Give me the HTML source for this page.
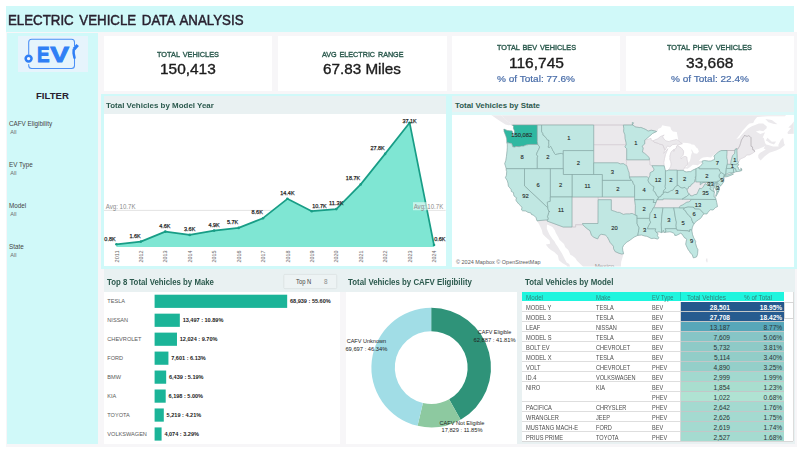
<!DOCTYPE html>
<html lang="en"><head><meta charset="utf-8"><title>Electric Vehicle Data Analysis</title>
<style>
html,body{margin:0;padding:0;}
body{width:800px;height:450px;overflow:hidden;background:#fff;position:relative;font-family:"Liberation Sans",sans-serif;}
.b{position:absolute;}
.t{position:absolute;white-space:nowrap;line-height:1;transform-origin:0 50%;}
svg{position:absolute;left:0;top:0;overflow:visible;}
</style></head><body>

<div class="b" style="left:6px;top:32px;width:791.00px;height:415.00px;background:#f7f6f8;"></div>
<div class="b hdr" style="left:6px;top:6px;width:788.00px;height:25.60px;background:#d0f9f9;"></div>
<div class="t" style="left:8.40px;top:12px;font-size:15px;color:#2a2230;word-spacing:2.2px;transform:scaleX(0.8858);-webkit-text-stroke:0.5px #2a2230;">ELECTRIC VEHICLE DATA ANALYSIS</div>
<div class="b" style="left:7px;top:32.7px;width:91.00px;height:411.00px;background:#d0f9f9;"></div>
<div class="b" style="left:17.5px;top:35.8px;width:70.50px;height:35.90px;background:#e6f4fc;"></div>
<div class="t" style="left:36.00px;top:91px;font-size:9.6px;color:#2a2230;font-weight:bold;">FILTER</div>
<div class="t" style="left:9.00px;top:121px;font-size:6.3px;color:#444;">CAFV Eligibility</div>
<div class="t" style="left:10.30px;top:130px;font-size:5.6px;color:#6c6c6c;">All</div>
<div class="t" style="left:9.00px;top:162px;font-size:6.3px;color:#444;">EV Type</div>
<div class="t" style="left:10.30px;top:171px;font-size:5.6px;color:#6c6c6c;">All</div>
<div class="t" style="left:9.00px;top:203px;font-size:6.3px;color:#444;">Model</div>
<div class="t" style="left:10.30px;top:212px;font-size:5.6px;color:#6c6c6c;">All</div>
<div class="t" style="left:9.00px;top:244px;font-size:6.3px;color:#444;">State</div>
<div class="t" style="left:10.30px;top:253px;font-size:5.6px;color:#6c6c6c;">All</div>
<div class="b" style="left:103.75px;top:36.2px;width:168.25px;height:55.20px;background:#fff;"></div>
<div class="t" style="left:156.88px;top:51px;font-size:8.0px;color:#2c5a4e;word-spacing:1.0px;transform:scaleX(0.9180);-webkit-text-stroke:0.38px #2c5a4e;">TOTAL VEHICLES</div>
<div class="t" style="left:160.00px;top:62px;font-size:14.3px;color:#1c1c1c;transform:scaleX(1.0785);-webkit-text-stroke:0.35px #1c1c1c;">150,413</div>
<div class="b" style="left:277.5px;top:36.2px;width:169.50px;height:55.20px;background:#fff;"></div>
<div class="t" style="left:321.50px;top:51px;font-size:8.0px;color:#2c5a4e;word-spacing:1.0px;transform:scaleX(0.8980);-webkit-text-stroke:0.38px #2c5a4e;">AVG ELECTRIC RANGE</div>
<div class="t" style="left:323.25px;top:62px;font-size:14.3px;color:#1c1c1c;transform:scaleX(1.0666);-webkit-text-stroke:0.35px #1c1c1c;">67.83 Miles</div>
<div class="b" style="left:452px;top:36.2px;width:168.00px;height:55.20px;background:#fff;"></div>
<div class="t" style="left:496.50px;top:44px;font-size:8.0px;color:#2c5a4e;word-spacing:1.0px;transform:scaleX(0.9105);-webkit-text-stroke:0.38px #2c5a4e;">TOTAL BEV VEHICLES</div>
<div class="t" style="left:508.50px;top:56px;font-size:14.3px;color:#1c1c1c;transform:scaleX(1.0863);-webkit-text-stroke:0.35px #1c1c1c;">116,745</div>
<div class="t" style="left:497.00px;top:74px;font-size:9.8px;color:#4a6ea9;transform:scaleX(1.0251);-webkit-text-stroke:0.22px #4a6ea9;">% of Total: 77.6%</div>
<div class="b" style="left:626px;top:36.2px;width:167.60px;height:55.20px;background:#fff;"></div>
<div class="t" style="left:667.30px;top:44px;font-size:8.0px;color:#2c5a4e;word-spacing:1.0px;transform:scaleX(0.9184);-webkit-text-stroke:0.38px #2c5a4e;">TOTAL PHEV VEHICLES</div>
<div class="t" style="left:686.05px;top:56px;font-size:14.3px;color:#1c1c1c;transform:scaleX(1.0860);-webkit-text-stroke:0.35px #1c1c1c;">33,668</div>
<div class="t" style="left:670.80px;top:74px;font-size:9.8px;color:#4a6ea9;transform:scaleX(1.0251);-webkit-text-stroke:0.22px #4a6ea9;">% of Total: 22.4%</div>
<div class="b" style="left:101px;top:93.6px;width:696.00px;height:175.70px;background:#d0f9f9;"></div>
<div class="b" style="left:104px;top:96.4px;width:341.60px;height:18.00px;background:#e9f1f2;"></div>
<div class="b" style="left:104px;top:114.4px;width:341.60px;height:152.10px;background:#fff;"></div>
<div class="t" style="left:106.20px;top:102px;font-size:7.9px;color:#2c5a4e;font-weight:bold;transform:scaleX(1.0067);">Total Vehicles by Model Year</div>
<div class="b" style="left:452px;top:96.4px;width:341.80px;height:15.90px;background:#e9f1f2;"></div>
<div class="b" style="left:452px;top:112.3px;width:341.80px;height:3.10px;background:#dcf8f8;"></div>
<div class="b" style="left:452px;top:115.2px;width:341.80px;height:151.40px;background:#fff;overflow:hidden;"></div>
<div class="t" style="left:455.00px;top:102px;font-size:7.9px;color:#2c5a4e;font-weight:bold;">Total Vehicles by State</div>
<div class="b" style="left:103.7px;top:269.3px;width:691.30px;height:22.30px;background:#e9f1f2;"></div>
<div class="b" style="left:517px;top:291.6px;width:278.00px;height:152.40px;background:#e9f1f2;"></div>
<div class="b" style="left:104px;top:291.6px;width:236.00px;height:152.00px;background:#fff;"></div>
<div class="b" style="left:345.5px;top:291.6px;width:171.50px;height:152.10px;background:#fff;"></div>
<div class="b" style="left:522.2px;top:292.3px;width:270.80px;height:150.20px;background:#fff;"></div>
<div class="t" style="left:106.70px;top:278px;font-size:8.6px;color:#2c5a4e;font-weight:bold;transform:scaleX(0.9089);">Top 8 Total Vehicles by Make</div>
<div class="t" style="left:348.40px;top:278px;font-size:8.6px;color:#2c5a4e;font-weight:bold;transform:scaleX(0.9147);">Total Vehicles by CAFV Eligibility</div>
<div class="t" style="left:524.50px;top:278px;font-size:8.6px;color:#2c5a4e;font-weight:bold;transform:scaleX(0.9183);">Total Vehicles by Model</div>
<svg width="800" height="450" viewBox="0 0 800 450" font-family="Liberation Sans, sans-serif"><line x1="104" x2="445.6" y1="210.4" y2="210.4" stroke="#dcdcdc" stroke-width="0.8"/>
<polygon points="116.4,247.0 116.4,244.3 140.8,241.6 165.3,231.6 189.7,234.9 214.1,230.6 238.6,227.9 263.0,218.2 287.4,198.8 311.8,211.2 336.3,209.1 360.7,184.4 385.1,153.9 409.6,122.7 434.0,245.0 434.0,247.0" fill="#7fe6d3"/>
<polyline points="116.4,244.3 140.8,241.6 165.3,231.6 189.7,234.9 214.1,230.6 238.6,227.9 263.0,218.2 287.4,198.8 311.8,211.2 336.3,209.1 360.7,184.4 385.1,153.9 409.6,122.7 434.0,245.0" fill="none" stroke="#189d86" stroke-width="1.7" stroke-linejoin="round"/>
<circle cx="116.4" cy="244.3" r="1.3" fill="#189d86"/>
<circle cx="140.8" cy="241.6" r="1.3" fill="#189d86"/>
<circle cx="165.3" cy="231.6" r="1.3" fill="#189d86"/>
<circle cx="189.7" cy="234.9" r="1.3" fill="#189d86"/>
<circle cx="214.1" cy="230.6" r="1.3" fill="#189d86"/>
<circle cx="238.6" cy="227.9" r="1.3" fill="#189d86"/>
<circle cx="263.0" cy="218.2" r="1.3" fill="#189d86"/>
<circle cx="287.4" cy="198.8" r="1.3" fill="#189d86"/>
<circle cx="311.8" cy="211.2" r="1.3" fill="#189d86"/>
<circle cx="336.3" cy="209.1" r="1.3" fill="#189d86"/>
<circle cx="360.7" cy="184.4" r="1.3" fill="#189d86"/>
<circle cx="385.1" cy="153.9" r="1.3" fill="#189d86"/>
<circle cx="409.6" cy="122.7" r="1.3" fill="#189d86"/>
<circle cx="434.0" cy="245.0" r="1.3" fill="#189d86"/>
<text x="110.00" y="241" font-size="5.9" fill="#1f1f1f" text-anchor="middle" textLength="11.30" lengthAdjust="spacingAndGlyphs" stroke="#1f1f1f" stroke-width="0.25">0.8K</text>
<text x="135.03" y="238" font-size="5.9" fill="#1f1f1f" text-anchor="middle" textLength="11.30" lengthAdjust="spacingAndGlyphs" stroke="#1f1f1f" stroke-width="0.25">1.6K</text>
<text x="164.86" y="228" font-size="5.9" fill="#1f1f1f" text-anchor="middle" textLength="11.30" lengthAdjust="spacingAndGlyphs" stroke="#1f1f1f" stroke-width="0.25">4.6K</text>
<text x="189.69" y="231" font-size="5.9" fill="#1f1f1f" text-anchor="middle" textLength="11.30" lengthAdjust="spacingAndGlyphs" stroke="#1f1f1f" stroke-width="0.25">3.6K</text>
<text x="214.12" y="227" font-size="5.9" fill="#1f1f1f" text-anchor="middle" textLength="11.30" lengthAdjust="spacingAndGlyphs" stroke="#1f1f1f" stroke-width="0.25">4.9K</text>
<text x="232.55" y="224" font-size="5.9" fill="#1f1f1f" text-anchor="middle" textLength="11.30" lengthAdjust="spacingAndGlyphs" stroke="#1f1f1f" stroke-width="0.25">5.7K</text>
<text x="257.18" y="214" font-size="5.9" fill="#1f1f1f" text-anchor="middle" textLength="11.30" lengthAdjust="spacingAndGlyphs" stroke="#1f1f1f" stroke-width="0.25">8.6K</text>
<text x="287.41" y="195" font-size="5.9" fill="#1f1f1f" text-anchor="middle" textLength="14.30" lengthAdjust="spacingAndGlyphs" stroke="#1f1f1f" stroke-width="0.25">14.4K</text>
<text x="319.44" y="208" font-size="5.9" fill="#1f1f1f" text-anchor="middle" textLength="14.30" lengthAdjust="spacingAndGlyphs" stroke="#1f1f1f" stroke-width="0.25">10.7K</text>
<text x="336.27" y="205" font-size="5.9" fill="#1f1f1f" text-anchor="middle" textLength="14.30" lengthAdjust="spacingAndGlyphs" stroke="#1f1f1f" stroke-width="0.25">11.3K</text>
<text x="353.00" y="180" font-size="5.9" fill="#1f1f1f" text-anchor="middle" textLength="14.30" lengthAdjust="spacingAndGlyphs" stroke="#1f1f1f" stroke-width="0.25">18.7K</text>
<text x="377.53" y="150" font-size="5.9" fill="#1f1f1f" text-anchor="middle" textLength="14.30" lengthAdjust="spacingAndGlyphs" stroke="#1f1f1f" stroke-width="0.25">27.8K</text>
<text x="409.56" y="123" font-size="5.9" fill="#1f1f1f" text-anchor="middle" textLength="14.30" lengthAdjust="spacingAndGlyphs" stroke="#1f1f1f" stroke-width="0.25">37.1K</text>
<text x="439.79" y="241" font-size="5.9" fill="#1f1f1f" text-anchor="middle" textLength="11.30" lengthAdjust="spacingAndGlyphs" stroke="#1f1f1f" stroke-width="0.25">0.6K</text>
<rect x="413" y="202.2" width="31.5" height="8" fill="#fff" fill-opacity="0.55"/>
<text x="105.80" y="209" font-size="6.4" fill="#8a8a8a" textLength="29.70" lengthAdjust="spacingAndGlyphs">Avg: 10.7K</text>
<text x="413.70" y="209" font-size="6.4" fill="#8a8a8a" textLength="29.50" lengthAdjust="spacingAndGlyphs">Avg: 10.7K</text>
<text transform="translate(118.5,256.4) rotate(-90)" font-size="6" fill="#666" text-anchor="middle" textLength="12" lengthAdjust="spacingAndGlyphs">2011</text>
<text transform="translate(142.9,256.4) rotate(-90)" font-size="6" fill="#666" text-anchor="middle" textLength="12" lengthAdjust="spacingAndGlyphs">2012</text>
<text transform="translate(167.4,256.4) rotate(-90)" font-size="6" fill="#666" text-anchor="middle" textLength="12" lengthAdjust="spacingAndGlyphs">2013</text>
<text transform="translate(191.8,256.4) rotate(-90)" font-size="6" fill="#666" text-anchor="middle" textLength="12" lengthAdjust="spacingAndGlyphs">2014</text>
<text transform="translate(216.2,256.4) rotate(-90)" font-size="6" fill="#666" text-anchor="middle" textLength="12" lengthAdjust="spacingAndGlyphs">2015</text>
<text transform="translate(240.7,256.4) rotate(-90)" font-size="6" fill="#666" text-anchor="middle" textLength="12" lengthAdjust="spacingAndGlyphs">2016</text>
<text transform="translate(265.1,256.4) rotate(-90)" font-size="6" fill="#666" text-anchor="middle" textLength="12" lengthAdjust="spacingAndGlyphs">2017</text>
<text transform="translate(289.5,256.4) rotate(-90)" font-size="6" fill="#666" text-anchor="middle" textLength="12" lengthAdjust="spacingAndGlyphs">2018</text>
<text transform="translate(313.9,256.4) rotate(-90)" font-size="6" fill="#666" text-anchor="middle" textLength="12" lengthAdjust="spacingAndGlyphs">2019</text>
<text transform="translate(338.4,256.4) rotate(-90)" font-size="6" fill="#666" text-anchor="middle" textLength="12" lengthAdjust="spacingAndGlyphs">2020</text>
<text transform="translate(362.8,256.4) rotate(-90)" font-size="6" fill="#666" text-anchor="middle" textLength="12" lengthAdjust="spacingAndGlyphs">2021</text>
<text transform="translate(387.2,256.4) rotate(-90)" font-size="6" fill="#666" text-anchor="middle" textLength="12" lengthAdjust="spacingAndGlyphs">2022</text>
<text transform="translate(411.7,256.4) rotate(-90)" font-size="6" fill="#666" text-anchor="middle" textLength="12" lengthAdjust="spacingAndGlyphs">2023</text>
<text transform="translate(436.1,256.4) rotate(-90)" font-size="6" fill="#666" text-anchor="middle" textLength="12" lengthAdjust="spacingAndGlyphs">2024</text>
<rect x="154.6" y="294.70" width="132.57" height="13.2" fill="#1bb498"/>
<text x="107.30" y="303" font-size="5.8" fill="#5a5a5a" textLength="17.74" lengthAdjust="spacingAndGlyphs">TESLA</text>
<text x="289.97" y="303" font-size="5.7" fill="#222" font-weight="bold" textLength="40.74" lengthAdjust="spacingAndGlyphs">68,939 : 55.60%</text>
<rect x="154.6" y="313.66" width="25.23" height="13.2" fill="#1bb498"/>
<text x="107.30" y="322" font-size="5.8" fill="#5a5a5a" textLength="20.85" lengthAdjust="spacingAndGlyphs">NISSAN</text>
<text x="182.63" y="322" font-size="5.7" fill="#222" font-weight="bold" textLength="40.74" lengthAdjust="spacingAndGlyphs">13,497 : 10.89%</text>
<rect x="154.6" y="332.62" width="22.38" height="13.2" fill="#1bb498"/>
<text x="107.30" y="341" font-size="5.8" fill="#5a5a5a" textLength="34.23" lengthAdjust="spacingAndGlyphs">CHEVROLET</text>
<text x="179.78" y="341" font-size="5.7" fill="#222" font-weight="bold" textLength="37.65" lengthAdjust="spacingAndGlyphs">12,024 : 9.70%</text>
<rect x="154.6" y="351.58" width="13.82" height="13.2" fill="#1bb498"/>
<text x="107.30" y="360" font-size="5.8" fill="#5a5a5a" textLength="15.86" lengthAdjust="spacingAndGlyphs">FORD</text>
<text x="171.22" y="360" font-size="5.7" fill="#222" font-weight="bold" textLength="34.56" lengthAdjust="spacingAndGlyphs">7,601 : 6.13%</text>
<rect x="154.6" y="370.54" width="11.57" height="13.2" fill="#1bb498"/>
<text x="107.30" y="379" font-size="5.8" fill="#5a5a5a" textLength="13.69" lengthAdjust="spacingAndGlyphs">BMW</text>
<text x="168.97" y="379" font-size="5.7" fill="#222" font-weight="bold" textLength="34.56" lengthAdjust="spacingAndGlyphs">6,439 : 5.19%</text>
<rect x="154.6" y="389.50" width="11.10" height="13.2" fill="#1bb498"/>
<text x="107.30" y="398" font-size="5.8" fill="#5a5a5a" textLength="9.03" lengthAdjust="spacingAndGlyphs">KIA</text>
<text x="168.50" y="398" font-size="5.7" fill="#222" font-weight="bold" textLength="34.56" lengthAdjust="spacingAndGlyphs">6,198 : 5.00%</text>
<rect x="154.6" y="408.46" width="9.20" height="13.2" fill="#1bb498"/>
<text x="107.30" y="417" font-size="5.8" fill="#5a5a5a" textLength="22.51" lengthAdjust="spacingAndGlyphs">TOYOTA</text>
<text x="166.60" y="417" font-size="5.7" fill="#222" font-weight="bold" textLength="34.56" lengthAdjust="spacingAndGlyphs">5,219 : 4.21%</text>
<rect x="154.6" y="427.42" width="6.99" height="13.2" fill="#1bb498"/>
<text x="107.30" y="436" font-size="5.8" fill="#5a5a5a" textLength="39.62" lengthAdjust="spacingAndGlyphs">VOLKSWAGEN</text>
<text x="164.39" y="436" font-size="5.7" fill="#222" font-weight="bold" textLength="34.56" lengthAdjust="spacingAndGlyphs">4,074 : 3.29%</text>
<rect x="283.8" y="274.4" width="52.9" height="14.2" rx="1" fill="#edf3f4" stroke="#d9dfe0" stroke-width="0.7"/>
<text x="296.00" y="284" font-size="6.3" fill="#444" textLength="15.20" lengthAdjust="spacingAndGlyphs">Top N</text>
<text x="324.00" y="284" font-size="6.4" fill="#8a8a8a">8</text>
<path d="M431.20,307.80 A59.8,59.8 0 0 1 460.63,419.66 L449.12,399.29 A36.4,36.4 0 0 0 431.20,331.20 Z" fill="#2f9379"/>
<path d="M460.63,419.66 A59.8,59.8 0 0 1 417.57,425.83 L422.90,403.04 A36.4,36.4 0 0 0 449.12,399.29 Z" fill="#8dc9a0"/>
<path d="M417.57,425.83 A59.8,59.8 0 0 1 431.20,307.80 L431.20,331.20 A36.4,36.4 0 0 0 422.90,403.04 Z" fill="#a1dde6"/>
<text x="366.40" y="343" font-size="6.2" fill="#222" text-anchor="middle" textLength="39.50" lengthAdjust="spacingAndGlyphs">CAFV Unknown</text>
<text x="366.40" y="351" font-size="6.2" fill="#222" text-anchor="middle" textLength="42.00" lengthAdjust="spacingAndGlyphs">69,697 : 46.34%</text>
<text x="494.60" y="334" font-size="6.2" fill="#222" text-anchor="middle" textLength="33.50" lengthAdjust="spacingAndGlyphs">CAFV Eligible</text>
<text x="494.60" y="342" font-size="6.2" fill="#222" text-anchor="middle" textLength="42.00" lengthAdjust="spacingAndGlyphs">62,887 : 41.81%</text>
<text x="462.00" y="425" font-size="6.2" fill="#222" text-anchor="middle" textLength="45.00" lengthAdjust="spacingAndGlyphs">CAFV Not Eligible</text>
<text x="462.00" y="432" font-size="6.2" fill="#222" text-anchor="middle" textLength="41.00" lengthAdjust="spacingAndGlyphs">17,829 : 11.85%</text></svg>
<div class="b" style="left:522.2px;top:292.1px;width:261.60px;height:9.40px;background:#1ff5de;"></div>
<div class="t" style="left:525.80px;top:295px;font-size:6.6px;color:#2f837c;transform:scaleX(0.9457);">Model</div>
<div class="t" style="left:596.00px;top:295px;font-size:6.6px;color:#2f837c;transform:scaleX(0.8984);">Make</div>
<div class="t" style="left:652.00px;top:295px;font-size:6.6px;color:#2f837c;transform:scaleX(0.8660);">EV Type</div>
<div class="t" style="left:687.00px;top:295px;font-size:6.6px;color:#2f837c;transform:scaleX(0.9664);">Total Vehicles</div>
<div class="t" style="left:744.00px;top:295px;font-size:6.6px;color:#2f837c;transform:scaleX(0.9701);">% of Total</div>
<div class="b" style="left:680.3000000000001px;top:292.1px;width:0.80px;height:9.40px;background:#19cdbb;"></div>
<div class="b" style="left:680.7px;top:301.5px;width:103.10px;height:10.00px;background:#24588d;"></div>
<div class="t" style="left:525.80px;top:305px;font-size:6.6px;color:#4c4c4c;transform:scaleX(0.8650);">MODEL Y</div>
<div class="t" style="left:596.00px;top:305px;font-size:6.6px;color:#4c4c4c;transform:scaleX(0.8500);">TESLA</div>
<div class="t" style="left:652.00px;top:305px;font-size:6.6px;color:#4c4c4c;transform:scaleX(0.8400);">BEV</div>
<div class="t" style="left:709.81px;top:305px;font-size:6.6px;color:#ffffff;font-weight:bold;">28,501</div>
<div class="t" style="left:759.82px;top:305px;font-size:6.6px;color:#ffffff;font-weight:bold;">18.95%</div>
<div class="b" style="left:680.7px;top:311.5px;width:103.10px;height:10.00px;background:#265b8f;"></div>
<div class="b" style="left:522.2px;top:311.1px;width:158.50px;height:0.80px;background:#dedede;"></div>
<div class="b" style="left:680.7px;top:311.05px;width:103.10px;height:0.90px;background:#c3c7c8;"></div>
<div class="t" style="left:525.80px;top:315px;font-size:6.6px;color:#4c4c4c;transform:scaleX(0.8650);">MODEL 3</div>
<div class="t" style="left:596.00px;top:315px;font-size:6.6px;color:#4c4c4c;transform:scaleX(0.8500);">TESLA</div>
<div class="t" style="left:652.00px;top:315px;font-size:6.6px;color:#4c4c4c;transform:scaleX(0.8400);">BEV</div>
<div class="t" style="left:709.81px;top:315px;font-size:6.6px;color:#ffffff;font-weight:bold;">27,708</div>
<div class="t" style="left:759.82px;top:315px;font-size:6.6px;color:#ffffff;font-weight:bold;">18.42%</div>
<div class="b" style="left:680.7px;top:321.5px;width:103.10px;height:10.00px;background:#57a7b9;"></div>
<div class="b" style="left:522.2px;top:321.1px;width:158.50px;height:0.80px;background:#dedede;"></div>
<div class="b" style="left:680.7px;top:321.05px;width:103.10px;height:0.90px;background:#c3c7c8;"></div>
<div class="t" style="left:525.80px;top:325px;font-size:6.6px;color:#4c4c4c;transform:scaleX(0.8650);">LEAF</div>
<div class="t" style="left:596.00px;top:325px;font-size:6.6px;color:#4c4c4c;transform:scaleX(0.8500);">NISSAN</div>
<div class="t" style="left:652.00px;top:325px;font-size:6.6px;color:#4c4c4c;transform:scaleX(0.8400);">BEV</div>
<div class="t" style="left:709.81px;top:325px;font-size:6.6px;color:#2a3436;">13,187</div>
<div class="t" style="left:763.49px;top:325px;font-size:6.6px;color:#2a3436;">8.77%</div>
<div class="b" style="left:680.7px;top:331.5px;width:103.10px;height:10.00px;background:#86c5c6;"></div>
<div class="b" style="left:522.2px;top:331.1px;width:158.50px;height:0.80px;background:#dedede;"></div>
<div class="b" style="left:680.7px;top:331.05px;width:103.10px;height:0.90px;background:#c3c7c8;"></div>
<div class="t" style="left:525.80px;top:335px;font-size:6.6px;color:#4c4c4c;transform:scaleX(0.8650);">MODEL S</div>
<div class="t" style="left:596.00px;top:335px;font-size:6.6px;color:#4c4c4c;transform:scaleX(0.8500);">TESLA</div>
<div class="t" style="left:652.00px;top:335px;font-size:6.6px;color:#4c4c4c;transform:scaleX(0.8400);">BEV</div>
<div class="t" style="left:713.48px;top:335px;font-size:6.6px;color:#2a3436;">7,609</div>
<div class="t" style="left:763.49px;top:335px;font-size:6.6px;color:#2a3436;">5.06%</div>
<div class="b" style="left:680.7px;top:341.5px;width:103.10px;height:10.00px;background:#8ecac7;"></div>
<div class="b" style="left:522.2px;top:341.1px;width:158.50px;height:0.80px;background:#dedede;"></div>
<div class="b" style="left:680.7px;top:341.05px;width:103.10px;height:0.90px;background:#c3c7c8;"></div>
<div class="t" style="left:525.80px;top:345px;font-size:6.6px;color:#4c4c4c;transform:scaleX(0.8650);">BOLT EV</div>
<div class="t" style="left:596.00px;top:345px;font-size:6.6px;color:#4c4c4c;transform:scaleX(0.8500);">CHEVROLET</div>
<div class="t" style="left:652.00px;top:345px;font-size:6.6px;color:#4c4c4c;transform:scaleX(0.8400);">BEV</div>
<div class="t" style="left:713.48px;top:345px;font-size:6.6px;color:#2a3436;">5,732</div>
<div class="t" style="left:763.49px;top:345px;font-size:6.6px;color:#2a3436;">3.81%</div>
<div class="b" style="left:680.7px;top:351.5px;width:103.10px;height:10.00px;background:#92cdc8;"></div>
<div class="b" style="left:522.2px;top:351.1px;width:158.50px;height:0.80px;background:#dedede;"></div>
<div class="b" style="left:680.7px;top:351.05px;width:103.10px;height:0.90px;background:#c3c7c8;"></div>
<div class="t" style="left:525.80px;top:355px;font-size:6.6px;color:#4c4c4c;transform:scaleX(0.8650);">MODEL X</div>
<div class="t" style="left:596.00px;top:355px;font-size:6.6px;color:#4c4c4c;transform:scaleX(0.8500);">TESLA</div>
<div class="t" style="left:652.00px;top:355px;font-size:6.6px;color:#4c4c4c;transform:scaleX(0.8400);">BEV</div>
<div class="t" style="left:713.97px;top:355px;font-size:6.6px;color:#2a3436;">5,114</div>
<div class="t" style="left:763.49px;top:355px;font-size:6.6px;color:#2a3436;">3.40%</div>
<div class="b" style="left:680.7px;top:361.5px;width:103.10px;height:10.00px;background:#94cfc9;"></div>
<div class="b" style="left:522.2px;top:361.1px;width:158.50px;height:0.80px;background:#dedede;"></div>
<div class="b" style="left:680.7px;top:361.05px;width:103.10px;height:0.90px;background:#c3c7c8;"></div>
<div class="t" style="left:525.80px;top:365px;font-size:6.6px;color:#4c4c4c;transform:scaleX(0.8650);">VOLT</div>
<div class="t" style="left:596.00px;top:365px;font-size:6.6px;color:#4c4c4c;transform:scaleX(0.8500);">CHEVROLET</div>
<div class="t" style="left:652.00px;top:365px;font-size:6.6px;color:#4c4c4c;transform:scaleX(0.8400);">PHEV</div>
<div class="t" style="left:713.48px;top:365px;font-size:6.6px;color:#2a3436;">4,890</div>
<div class="t" style="left:763.49px;top:365px;font-size:6.6px;color:#2a3436;">3.25%</div>
<div class="b" style="left:680.7px;top:371.5px;width:103.10px;height:10.00px;background:#a2d9cf;"></div>
<div class="b" style="left:522.2px;top:371.1px;width:158.50px;height:0.80px;background:#dedede;"></div>
<div class="b" style="left:680.7px;top:371.05px;width:103.10px;height:0.90px;background:#c3c7c8;"></div>
<div class="t" style="left:525.80px;top:375px;font-size:6.6px;color:#4c4c4c;transform:scaleX(0.8650);">ID.4</div>
<div class="t" style="left:596.00px;top:375px;font-size:6.6px;color:#4c4c4c;transform:scaleX(0.8500);">VOLKSWAGEN</div>
<div class="t" style="left:652.00px;top:375px;font-size:6.6px;color:#4c4c4c;transform:scaleX(0.8400);">BEV</div>
<div class="t" style="left:713.48px;top:375px;font-size:6.6px;color:#2a3436;">2,999</div>
<div class="t" style="left:763.49px;top:375px;font-size:6.6px;color:#2a3436;">1.99%</div>
<div class="b" style="left:680.7px;top:381.5px;width:103.10px;height:10.00px;background:#a9decf;"></div>
<div class="b" style="left:522.2px;top:381.1px;width:158.50px;height:0.80px;background:#dedede;"></div>
<div class="b" style="left:680.7px;top:381.05px;width:103.10px;height:0.90px;background:#c3c7c8;"></div>
<div class="t" style="left:525.80px;top:385px;font-size:6.6px;color:#4c4c4c;transform:scaleX(0.8650);">NIRO</div>
<div class="t" style="left:596.00px;top:385px;font-size:6.6px;color:#4c4c4c;transform:scaleX(0.8500);">KIA</div>
<div class="t" style="left:652.00px;top:385px;font-size:6.6px;color:#4c4c4c;transform:scaleX(0.8400);">BEV</div>
<div class="t" style="left:713.48px;top:385px;font-size:6.6px;color:#2a3436;">1,854</div>
<div class="t" style="left:763.49px;top:385px;font-size:6.6px;color:#2a3436;">1.23%</div>
<div class="b" style="left:680.7px;top:391.5px;width:103.10px;height:10.00px;background:#b0e3d3;"></div>
<div class="b" style="left:650px;top:391.1px;width:30.70px;height:0.80px;background:#dedede;"></div>
<div class="b" style="left:680.7px;top:391.05px;width:103.10px;height:0.90px;background:#c3c7c8;"></div>
<div class="t" style="left:652.00px;top:395px;font-size:6.6px;color:#4c4c4c;transform:scaleX(0.8400);">PHEV</div>
<div class="t" style="left:713.48px;top:395px;font-size:6.6px;color:#2a3436;">1,022</div>
<div class="t" style="left:763.49px;top:395px;font-size:6.6px;color:#2a3436;">0.68%</div>
<div class="b" style="left:680.7px;top:401.5px;width:103.10px;height:10.00px;background:#a4dad0;"></div>
<div class="b" style="left:522.2px;top:401.1px;width:158.50px;height:0.80px;background:#dedede;"></div>
<div class="b" style="left:680.7px;top:401.05px;width:103.10px;height:0.90px;background:#c3c7c8;"></div>
<div class="t" style="left:525.80px;top:405px;font-size:6.6px;color:#4c4c4c;transform:scaleX(0.8650);">PACIFICA</div>
<div class="t" style="left:596.00px;top:405px;font-size:6.6px;color:#4c4c4c;transform:scaleX(0.8500);">CHRYSLER</div>
<div class="t" style="left:652.00px;top:405px;font-size:6.6px;color:#4c4c4c;transform:scaleX(0.8400);">PHEV</div>
<div class="t" style="left:713.48px;top:405px;font-size:6.6px;color:#2a3436;">2,642</div>
<div class="t" style="left:763.49px;top:405px;font-size:6.6px;color:#2a3436;">1.76%</div>
<div class="b" style="left:680.7px;top:411.5px;width:103.10px;height:10.00px;background:#a4dad0;"></div>
<div class="b" style="left:522.2px;top:411.1px;width:158.50px;height:0.80px;background:#dedede;"></div>
<div class="b" style="left:680.7px;top:411.05px;width:103.10px;height:0.90px;background:#c3c7c8;"></div>
<div class="t" style="left:525.80px;top:415px;font-size:6.6px;color:#4c4c4c;transform:scaleX(0.8650);">WRANGLER</div>
<div class="t" style="left:596.00px;top:415px;font-size:6.6px;color:#4c4c4c;transform:scaleX(0.8500);">JEEP</div>
<div class="t" style="left:652.00px;top:415px;font-size:6.6px;color:#4c4c4c;transform:scaleX(0.8400);">PHEV</div>
<div class="t" style="left:713.48px;top:415px;font-size:6.6px;color:#2a3436;">2,626</div>
<div class="t" style="left:763.49px;top:415px;font-size:6.6px;color:#2a3436;">1.75%</div>
<div class="b" style="left:680.7px;top:421.5px;width:103.10px;height:10.00px;background:#a4dad0;"></div>
<div class="b" style="left:522.2px;top:421.1px;width:158.50px;height:0.80px;background:#dedede;"></div>
<div class="b" style="left:680.7px;top:421.05px;width:103.10px;height:0.90px;background:#c3c7c8;"></div>
<div class="t" style="left:525.80px;top:425px;font-size:6.6px;color:#4c4c4c;transform:scaleX(0.8650);">MUSTANG MACH-E</div>
<div class="t" style="left:596.00px;top:425px;font-size:6.6px;color:#4c4c4c;transform:scaleX(0.8500);">FORD</div>
<div class="t" style="left:652.00px;top:425px;font-size:6.6px;color:#4c4c4c;transform:scaleX(0.8400);">BEV</div>
<div class="t" style="left:713.48px;top:425px;font-size:6.6px;color:#2a3436;">2,619</div>
<div class="t" style="left:763.49px;top:425px;font-size:6.6px;color:#2a3436;">1.74%</div>
<div class="b" style="left:680.7px;top:431.5px;width:103.10px;height:10.00px;background:#a5dbd0;"></div>
<div class="b" style="left:522.2px;top:431.1px;width:158.50px;height:0.80px;background:#dedede;"></div>
<div class="b" style="left:680.7px;top:431.05px;width:103.10px;height:0.90px;background:#c3c7c8;"></div>
<div class="t" style="left:525.80px;top:435px;font-size:6.6px;color:#4c4c4c;transform:scaleX(0.8650);">PRIUS PRIME</div>
<div class="t" style="left:596.00px;top:435px;font-size:6.6px;color:#4c4c4c;transform:scaleX(0.8500);">TOYOTA</div>
<div class="t" style="left:652.00px;top:435px;font-size:6.6px;color:#4c4c4c;transform:scaleX(0.8400);">PHEV</div>
<div class="t" style="left:713.48px;top:435px;font-size:6.6px;color:#2a3436;">2,527</div>
<div class="t" style="left:763.49px;top:435px;font-size:6.6px;color:#2a3436;">1.68%</div>
<div class="b" style="left:680.3000000000001px;top:301.5px;width:0.80px;height:140.00px;background:#d4d8d9;"></div>
<div class="b" style="left:522.2px;top:441.1px;width:270.80px;height:0.80px;background:#d8d8d8;"></div>
<div class="b" style="left:792.5px;top:292.1px;width:0.90px;height:149.40px;background:#dcdcdc;"></div>
<div class="b" style="left:784.4px;top:302.2px;width:7.6px;height:14.4px;border:0.8px solid #d6d6d6;background:#fff;"></div>
<svg width="800" height="450" viewBox="0 0 800 450" font-family="Liberation Sans, sans-serif"><path d="M28.7,54.3 V42.2 a3,3 0 0 1 3,-3 H71.5 a3,3 0 0 1 3,3 V45.5 M74.5,58.5 V65.5 a3,3 0 0 1 -3,3 H31.7 a3,3 0 0 1 -3,-3 V64.5" fill="none" stroke="#4a90f6" stroke-width="1.05" stroke-linecap="round"/>
<circle cx="28.6" cy="58.6" r="2.95" fill="#f2f9ff" stroke="#2f7ff5" stroke-width="2.5"/>
<path d="M74.0,49.2 L77.7,45.0" stroke="#2f7ff5" stroke-width="3.3" stroke-linecap="butt" fill="none"/>
<path d="M73.7,49.8 L73.6,53.2 L74.5,57.8" stroke="#2f7ff5" stroke-width="2.5" stroke-linecap="round" stroke-linejoin="round" fill="none"/>
<text x="36.9" y="61.8" font-size="22" font-weight="bold" fill="#2f7ff5" textLength="12.6" lengthAdjust="spacingAndGlyphs" stroke="#2f7ff5" stroke-width="0.9">E</text>
<text x="50.3" y="61.8" font-size="22" font-weight="bold" fill="#2f7ff5" textLength="18.8" lengthAdjust="spacingAndGlyphs" stroke="#2f7ff5" stroke-width="0.9">V</text></svg>
<svg width="800" height="450" viewBox="0 0 800 450" font-family="Liberation Sans, sans-serif"><defs><clipPath id="mc"><rect x="452" y="115.2" width="341.79999999999995" height="151.40000000000003"/></clipPath></defs><g clip-path="url(#mc)">
<rect x="452" y="115" width="342" height="152" fill="#fff"/>
<defs><filter id="lb" x="-5%" y="-5%" width="110%" height="110%"><feGaussianBlur stdDeviation="0.55"/></filter></defs>
<g filter="url(#lb)">
<path d="M491.9,104.3 L496.2,112.7 L501.9,115.5 L504.7,119.2 L507.5,121.6 L510.6,122.9 L511.0,125.0 L632.3,125.0 L634.3,125.9 L635.1,126.9 L639.9,127.6 L640.8,127.4 L643.8,128.6 L646.0,129.6 L648.1,131.1 L651.2,130.2 L654.7,130.9 L656.6,131.5 L657.7,130.9 L658.1,128.9 L661.2,127.6 L662.3,125.3 L665.5,125.9 L670.3,126.8 L671.1,129.6 L672.9,131.5 L676.8,131.9 L677.4,135.4 L678.1,138.7 L678.3,141.2 L679.8,142.2 L681.1,143.1 L682.9,142.8 L687.2,143.1 L690.7,143.7 L691.5,144.6 L694.2,144.7 L696.8,148.1 L697.8,148.4 L698.9,151.5 L698.5,152.1 L697.1,153.7 L693.9,153.2 L692.4,150.6 L690.9,149.1 L692.0,152.4 L690.9,155.6 L690.6,158.2 L689.8,161.0 L688.9,162.2 L687.6,162.8 L687.2,165.1 L687.4,166.6 L684.8,166.9 L684.5,168.4 L687.2,168.7 L687.2,169.1 L689.8,167.2 L692.8,164.8 L696.3,165.1 L697.6,165.4 L700.2,163.6 L701.3,163.5 L702.7,163.3 L702.2,162.3 L702.1,161.1 L698.9,161.0 L700.7,158.8 L703.0,157.5 L707.2,157.0 L711.1,157.6 L713.2,155.3 L716.8,153.1 L721.1,150.6 L727.0,150.5 L734.9,150.5 L735.4,149.1 L736.8,148.7 L737.8,149.1 L739.7,145.9 L740.4,143.7 L741.5,139.9 L744.8,135.1 L745.6,136.1 L747.5,136.2 L748.7,135.7 L750.4,136.9 L751.0,137.6 L751.0,145.0 L751.0,146.2 L752.5,146.9 L752.7,149.7 L754.0,150.0 L754.7,151.8 L754.5,150.0 L758.6,149.1 L763.2,146.9 L765.3,145.9 L763.6,148.4 L765.8,149.4 L759.9,152.9 L758.2,154.9 L758.3,157.8 L760.6,160.4 L764.5,156.4 L769.4,152.8 L776.2,150.6 L780.5,148.6 L785.0,145.0 L784.1,143.4 L783.1,137.8 L780.7,140.3 L778.3,145.0 L778.6,146.6 L773.1,146.4 L768.4,145.0 L766.2,144.4 L765.1,143.0 L763.8,138.0 L762.7,137.4 L765.1,132.2 L760.3,134.0 L755.9,131.5 L759.7,130.6 L763.2,131.2 L766.6,128.3 L766.8,126.6 L763.2,123.5 L758.8,123.6 L754.5,125.3 L752.3,125.9 L748.0,128.6 L743.5,132.7 L740.6,136.1 L739.3,138.0 L736.2,139.3 L739.3,135.4 L742.8,130.6 L747.5,125.3 L749.5,123.6 L753.2,122.9 L754.5,120.3 L757.1,116.9 L767.5,116.2 L784.9,116.2 L791.4,109.3 L797.9,104.3 L797.9,97.2 L489.7,97.2Z" fill="#ebe9ec"/>
<path d="M488.4,113.1 L494.1,116.9 L498.4,119.9 L502.3,122.6 L505.4,124.4 L508.4,125.3 L511.0,125.0 L510.6,122.9 L507.5,121.6 L504.7,119.2 L501.9,115.5 L496.2,112.7 L491.9,104.3 L488.4,104.3Z" fill="#ebe9ec"/>
<path d="M765.8,140.4 L767.5,137.7 L771.8,141.8 L776.2,141.5 L774.0,144.4 L769.7,143.1 L767.1,140.9Z" fill="#ebe9ec"/>
<path d="M765.3,118.9 L771.8,119.9 L777.5,124.3 L774.0,124.0 L768.4,122.3Z" fill="#ebe9ec"/>
<path d="M787.9,134.0 L787.5,132.2 L791.1,128.1 L788.3,127.6 L791.8,124.3 L794.0,121.3 L795.3,116.9 L797.9,111.4 L804.4,107.2 L804.4,138.0 L797.0,134.1 L793.5,133.8Z" fill="#ebe9ec"/>
<path d="M537.0,220.8 L539.1,224.2 L541.8,229.9 L542.7,234.0 L545.3,236.8 L549.6,240.5 L550.1,243.7 L545.8,244.5 L548.3,247.7 L550.9,249.9 L554.2,252.1 L557.9,255.5 L558.7,259.4 L559.2,260.6 L562.6,263.2 L566.6,265.6 L568.2,268.5 L570.2,267.0 L569.2,264.1 L566.6,262.5 L565.0,259.4 L562.0,253.5 L559.3,249.2 L558.0,247.0 L555.7,243.7 L554.4,241.3 L552.4,239.0 L549.6,234.8 L547.9,231.2 L546.8,228.5 L547.0,224.6 L550.5,226.1 L552.4,227.1 L554.8,230.2 L555.7,232.7 L558.3,237.3 L559.4,239.7 L564.0,244.1 L565.3,247.2 L568.3,250.1 L570.5,255.0 L572.0,255.5 L575.2,257.9 L577.0,260.8 L583.4,267.0 L586.1,270.3 L588.3,277.4 L623.0,277.4 L620.6,271.5 L621.0,264.3 L621.2,261.8 L622.5,257.4 L623.6,253.7 L621.7,254.0 L619.1,253.3 L615.2,251.6 L613.6,248.7 L613.4,246.2 L610.0,242.3 L609.1,240.3 L607.4,237.0 L605.2,234.9 L601.3,234.3 L599.5,235.3 L597.6,238.9 L593.9,237.3 L591.5,235.3 L590.0,230.7 L587.8,229.2 L584.3,226.3 L582.9,224.7 L575.6,224.7 L575.6,227.0 L563.2,227.0 L547.0,221.0 L547.4,219.8 L537.0,220.8Z" fill="#ebe9ec"/>
<path d="M676.8,273.2 L680.7,269.4 L685.9,267.7 L691.5,267.2 L695.9,268.0 L700.2,270.3 L706.7,271.3 L711.1,277.4 L680.7,277.4Z" fill="#ebe9ec"/>
<path d="M706.1,258.4 L707.4,258.6 L707.6,261.8 L707.0,262.7 L705.9,260.8Z" fill="#ebe9ec"/>
<path d="M506.9,142.7 L506.8,140.3 L506.7,138.7 L505.8,135.8 L504.1,131.5 L503.9,129.1 L507.1,130.4 L509.6,130.8 L512.1,130.9 L512.7,133.2 L512.1,136.1 L514.0,136.1 L514.3,133.2 L514.5,130.9 L513.4,128.3 L513.6,126.6 L512.5,125.0 L537.3,125.0 L537.3,141.7 L537.8,144.4 L528.9,144.4 L527.5,144.8 L526.0,145.0 L523.6,146.1 L521.6,146.1 L519.2,146.7 L516.2,146.4 L514.5,147.1 L512.7,146.7 L512.3,145.2 L511.7,143.6 L509.7,143.1 L507.5,142.8 L506.9,142.7Z" fill="#ebe9ec" stroke="#ebe9ec" stroke-width="0.5"/>
<path d="M506.2,168.7 L505.4,165.7 L504.7,163.7 L505.8,160.4 L506.4,156.7 L506.8,153.1 L507.1,150.6 L507.3,147.5 L507.3,144.4 L506.9,142.7 L507.5,142.8 L509.7,143.1 L511.7,143.6 L512.3,145.2 L512.7,146.7 L514.5,147.1 L516.2,146.4 L519.2,146.7 L521.6,146.1 L523.6,146.1 L526.0,145.0 L527.5,144.8 L528.9,144.4 L537.8,144.4 L538.6,145.5 L539.7,146.9 L538.9,149.1 L538.1,150.6 L537.3,152.1 L536.5,154.6 L537.7,156.1 L537.3,157.8 L537.3,168.7 L506.2,168.7Z" fill="#ebe9ec" stroke="#ebe9ec" stroke-width="0.5"/>
<path d="M537.3,125.0 L541.6,125.0 L541.6,131.5 L542.9,133.5 L543.1,135.1 L544.9,136.4 L546.6,138.7 L547.9,140.3 L549.0,140.3 L548.7,143.1 L549.0,145.0 L548.1,147.1 L549.2,147.5 L550.7,146.3 L551.4,147.5 L552.4,149.4 L552.9,150.9 L553.8,151.8 L554.6,153.7 L555.5,154.5 L557.4,153.9 L559.2,153.6 L561.3,153.4 L563.3,153.9 L563.3,168.7 L537.3,168.7 L537.3,157.8 L537.7,156.1 L536.5,154.6 L537.3,152.1 L538.1,150.6 L538.9,149.1 L539.7,146.9 L538.6,145.5 L537.8,144.4 L537.3,141.7 L537.3,125.0Z" fill="#ebe9ec" stroke="#ebe9ec" stroke-width="0.5"/>
<path d="M541.6,125.0 L593.7,125.0 L593.7,150.6 L563.3,150.6 L563.3,153.9 L561.3,153.4 L559.2,153.6 L557.4,153.9 L555.5,154.5 L554.6,153.7 L553.8,151.8 L552.9,150.9 L552.4,149.4 L551.4,147.5 L550.7,146.3 L549.2,147.5 L548.1,147.1 L549.0,145.0 L548.7,143.1 L549.0,140.3 L547.9,140.3 L546.6,138.7 L544.9,136.4 L543.1,135.1 L542.9,133.5 L541.6,131.5 L541.6,125.0Z" fill="#ebe9ec" stroke="#ebe9ec" stroke-width="0.5"/>
<path d="M563.3,150.6 L593.7,150.6 L593.7,174.5 L563.3,174.5Z" fill="#ebe9ec" stroke="#ebe9ec" stroke-width="0.5"/>
<path d="M572.0,174.5 L602.4,174.5 L602.4,197.0 L572.0,197.0Z" fill="#ebe9ec" stroke="#ebe9ec" stroke-width="0.5"/>
<path d="M550.3,168.7 L563.3,168.7 L563.3,174.5 L572.0,174.5 L572.0,197.0 L550.3,197.0Z" fill="#ebe9ec" stroke="#ebe9ec" stroke-width="0.5"/>
<path d="M524.5,168.7 L550.3,168.7 L550.3,197.0 L550.3,201.4 L548.8,201.6 L547.3,202.3 L547.5,204.6 L547.9,207.0 L547.8,207.8 L524.5,185.9 L524.5,168.7Z" fill="#ebe9ec" stroke="#ebe9ec" stroke-width="0.5"/>
<path d="M537.0,220.8 L536.4,219.1 L536.2,217.8 L533.6,215.2 L531.4,214.4 L531.0,213.0 L527.9,212.3 L525.8,211.0 L522.4,210.7 L521.6,210.0 L521.9,207.3 L520.6,205.7 L518.8,204.1 L516.2,200.8 L516.0,199.2 L516.6,197.8 L515.6,197.3 L514.0,195.9 L513.6,194.3 L513.5,192.6 L511.4,191.5 L511.0,189.3 L508.4,186.2 L508.0,183.1 L507.1,180.3 L505.4,177.7 L506.4,175.4 L506.7,171.6 L506.2,170.1 L506.2,168.7 L524.5,168.7 L524.5,185.9 L547.8,207.8 L548.0,208.9 L548.8,211.5 L549.9,211.5 L548.6,212.7 L548.2,215.2 L547.5,216.3 L548.3,218.4 L548.5,219.1 L547.8,219.8 L547.4,219.8 L537.0,220.8Z" fill="#ebe9ec" stroke="#ebe9ec" stroke-width="0.5"/>
<path d="M550.3,197.0 L572.0,197.0 L572.0,227.0 L563.2,227.0 L547.0,221.0 L547.4,219.8 L547.8,219.8 L548.5,219.1 L548.3,218.4 L547.5,216.3 L548.2,215.2 L548.6,212.7 L549.9,211.5 L548.8,211.5 L548.0,208.9 L547.8,207.8 L547.9,207.0 L547.5,204.6 L547.3,202.3 L548.8,201.6 L550.3,201.4 L550.3,197.0Z" fill="#ebe9ec" stroke="#ebe9ec" stroke-width="0.5"/>
<path d="M572.0,197.0 L598.2,197.0 L598.1,199.7 L598.0,223.5 L582.5,223.5 L582.9,224.7 L575.6,224.7 L575.6,227.0 L572.0,227.0Z" fill="#ebe9ec" stroke="#ebe9ec" stroke-width="0.5"/>
<path d="M598.1,199.7 L611.3,199.7 L611.3,210.2 L614.7,211.3 L617.3,212.3 L619.5,212.4 L623.4,214.4 L626.0,213.9 L629.5,213.9 L632.1,213.4 L635.2,215.0 L637.1,215.5 L637.1,223.6 L637.9,225.6 L639.2,227.8 L638.6,230.7 L638.4,232.2 L637.9,235.0 L638.0,235.3 L634.3,237.0 L632.5,238.3 L629.1,240.8 L626.9,242.0 L624.3,244.5 L623.4,245.7 L622.5,247.7 L622.8,250.6 L623.6,253.7 L621.7,254.0 L619.1,253.3 L615.2,251.6 L613.6,248.7 L613.4,246.2 L610.0,242.3 L609.1,240.3 L607.4,237.0 L605.2,234.9 L601.3,234.3 L599.5,235.3 L597.6,238.9 L593.9,237.3 L591.5,235.3 L590.0,230.7 L587.8,229.2 L584.3,226.3 L582.9,224.7 L582.5,223.5 L598.0,223.5 L598.1,199.7Z" fill="#ebe9ec" stroke="#ebe9ec" stroke-width="0.5"/>
<path d="M598.2,197.0 L634.6,197.0 L634.6,199.7 L635.4,205.7 L635.2,215.0 L632.1,213.4 L629.5,213.9 L626.0,213.9 L623.4,214.4 L619.5,212.4 L617.3,212.3 L614.7,211.3 L611.3,210.2 L611.3,199.7 L598.1,199.7 L598.2,197.0Z" fill="#ebe9ec" stroke="#ebe9ec" stroke-width="0.5"/>
<path d="M602.4,180.3 L631.6,180.3 L632.5,181.1 L633.4,183.7 L634.6,185.4 L634.6,197.0 L602.4,197.0Z" fill="#ebe9ec" stroke="#ebe9ec" stroke-width="0.5"/>
<path d="M593.7,162.8 L617.8,162.8 L620.4,163.9 L623.4,163.6 L625.6,165.1 L626.7,165.7 L627.3,167.5 L628.2,170.4 L629.1,172.8 L629.3,176.0 L629.6,176.9 L630.1,178.5 L631.6,180.3 L602.4,180.3 L602.4,174.5 L593.7,174.5Z" fill="#ebe9ec" stroke="#ebe9ec" stroke-width="0.5"/>
<path d="M593.7,144.7 L626.2,144.7 L624.9,146.9 L626.7,148.7 L626.7,159.8 L626.0,159.8 L626.7,162.2 L626.2,163.9 L626.7,165.7 L625.6,165.1 L623.4,163.6 L620.4,163.9 L617.8,162.8 L593.7,162.8Z" fill="#ebe9ec" stroke="#ebe9ec" stroke-width="0.5"/>
<path d="M593.7,125.0 L623.3,125.0 L623.8,128.3 L623.6,131.5 L624.9,134.8 L625.1,138.7 L626.0,142.5 L626.2,144.7 L593.7,144.7Z" fill="#ebe9ec" stroke="#ebe9ec" stroke-width="0.5"/>
<path d="M623.3,125.0 L632.3,125.0 L632.3,122.4 L633.6,122.8 L632.3,125.0 L634.3,125.9 L635.1,126.9 L639.9,127.6 L640.8,127.4 L643.8,128.6 L646.0,129.6 L648.1,131.1 L651.2,130.2 L654.7,130.9 L656.6,131.5 L652.5,133.5 L648.1,137.4 L645.5,139.6 L644.7,140.2 L644.7,143.9 L642.1,146.2 L643.2,148.1 L642.7,150.6 L642.5,152.1 L644.7,153.4 L646.4,154.9 L649.2,157.6 L649.4,159.8 L626.7,159.8 L626.7,148.7 L624.9,146.9 L626.2,144.7 L626.0,142.5 L625.1,138.7 L624.9,134.8 L623.6,131.5 L623.8,128.3 L623.3,125.0Z" fill="#ebe9ec" stroke="#ebe9ec" stroke-width="0.5"/>
<path d="M626.0,159.8 L649.4,159.8 L649.9,162.8 L649.7,164.5 L651.9,165.7 L653.8,168.7 L654.0,169.9 L653.1,171.3 L652.1,171.6 L650.1,172.8 L649.9,175.7 L648.6,178.1 L647.1,176.8 L629.6,176.9 L629.3,176.0 L629.1,172.8 L628.2,170.4 L627.3,167.5 L626.7,165.7 L626.2,163.9 L626.7,162.2 L626.0,159.8Z" fill="#ebe9ec" stroke="#ebe9ec" stroke-width="0.5"/>
<path d="M629.6,176.9 L647.1,176.8 L648.6,178.1 L648.1,180.3 L648.6,182.0 L651.6,185.4 L653.9,186.5 L653.9,188.0 L653.1,190.4 L655.1,192.1 L656.7,195.4 L658.4,197.1 L658.1,199.2 L656.8,199.7 L656.6,201.1 L656.0,202.5 L653.1,202.5 L654.0,199.7 L634.6,199.7 L634.6,197.0 L634.6,185.4 L633.4,183.7 L632.5,181.1 L631.6,180.3 L630.1,178.5 L629.6,176.9Z" fill="#ebe9ec" stroke="#ebe9ec" stroke-width="0.5"/>
<path d="M634.6,199.7 L654.0,199.7 L653.1,202.5 L656.0,202.5 L654.9,205.1 L654.2,207.0 L653.4,207.8 L652.1,210.5 L650.1,213.7 L649.6,218.4 L637.1,218.4 L637.1,215.5 L635.2,215.0 L635.4,205.7 L634.6,199.7Z" fill="#ebe9ec" stroke="#ebe9ec" stroke-width="0.5"/>
<path d="M637.1,218.4 L649.6,218.4 L649.9,221.0 L650.8,222.0 L648.6,225.9 L647.5,228.7 L655.8,228.7 L655.3,230.5 L656.7,232.8 L658.1,233.7 L657.3,235.8 L659.0,237.8 L657.9,238.8 L657.3,239.0 L654.7,238.3 L653.8,238.3 L651.2,238.5 L649.0,237.3 L646.8,236.3 L644.7,236.0 L641.6,235.0 L638.0,235.3 L637.9,235.0 L638.4,232.2 L638.6,230.7 L639.2,227.8 L637.9,225.6 L637.1,223.6 L637.1,218.4Z" fill="#ebe9ec" stroke="#ebe9ec" stroke-width="0.5"/>
<path d="M653.4,207.8 L662.5,207.8 L662.9,208.4 L661.8,216.8 L661.3,224.1 L661.6,232.6 L659.0,231.8 L657.3,232.2 L656.7,232.8 L655.3,230.5 L655.8,228.7 L647.5,228.7 L648.6,225.9 L650.8,222.0 L649.9,221.0 L649.6,218.4 L650.1,213.7 L652.1,210.5 L653.4,207.8Z" fill="#ebe9ec" stroke="#ebe9ec" stroke-width="0.5"/>
<path d="M662.5,207.8 L673.8,207.8 L675.6,219.0 L676.4,222.0 L676.1,225.6 L676.4,228.7 L665.1,228.7 L665.9,230.5 L665.4,232.3 L663.8,232.5 L663.8,231.7 L663.3,230.2 L662.9,232.0 L661.6,232.6 L661.3,224.1 L661.8,216.8 L662.9,208.4 L662.5,207.8Z" fill="#ebe9ec" stroke="#ebe9ec" stroke-width="0.5"/>
<path d="M673.8,207.8 L684.6,207.8 L683.5,209.4 L685.5,210.7 L686.1,212.1 L688.5,215.2 L689.6,215.9 L691.5,218.4 L692.0,220.4 L693.1,223.0 L694.4,223.4 L693.3,225.1 L692.4,227.1 L692.0,229.2 L691.8,230.1 L689.8,229.7 L689.2,231.9 L688.5,230.9 L677.0,230.2 L676.4,228.7 L676.1,225.6 L676.4,222.0 L675.6,219.0 L673.8,207.8Z" fill="#ebe9ec" stroke="#ebe9ec" stroke-width="0.5"/>
<path d="M665.1,228.7 L676.4,228.7 L677.0,230.2 L688.5,230.9 L689.2,231.9 L689.8,229.7 L691.8,230.1 L692.0,231.7 L692.6,234.8 L693.7,237.8 L695.7,241.5 L695.5,243.2 L696.8,247.7 L697.9,249.6 L697.6,253.5 L697.4,254.8 L696.5,256.9 L694.2,257.7 L693.3,257.8 L692.2,254.5 L690.2,252.8 L689.4,251.1 L688.3,249.9 L687.0,247.2 L686.3,245.7 L685.7,244.2 L686.1,241.8 L686.6,239.3 L685.9,238.3 L684.8,238.1 L683.3,236.0 L682.0,234.0 L680.7,233.2 L679.2,234.0 L676.4,235.4 L674.8,235.4 L674.6,234.0 L673.3,233.0 L671.1,232.0 L669.8,231.8 L666.8,232.1 L665.4,232.3 L665.9,230.5 L665.1,228.7Z" fill="#ebe9ec" stroke="#ebe9ec" stroke-width="0.5"/>
<path d="M684.6,207.8 L687.9,206.8 L693.5,207.0 L693.5,207.6 L694.0,207.3 L694.7,208.8 L699.5,208.9 L704.3,213.9 L702.8,214.7 L701.5,217.3 L699.8,218.9 L698.5,219.7 L696.1,221.5 L695.0,222.5 L694.4,223.4 L693.1,223.0 L692.0,220.4 L691.5,218.4 L689.6,215.9 L688.5,215.2 L686.1,212.1 L685.5,210.7 L683.5,209.4 L684.6,207.8Z" fill="#ebe9ec" stroke="#ebe9ec" stroke-width="0.5"/>
<path d="M679.3,207.8 L679.4,206.8 L680.7,205.7 L682.9,204.8 L684.6,203.6 L686.8,202.2 L688.9,201.9 L690.7,200.6 L690.8,199.3 L716.0,199.5 L716.7,202.5 L717.5,206.6 L715.4,207.6 L713.1,210.0 L710.6,209.7 L708.0,212.1 L707.0,213.9 L704.3,213.9 L699.5,208.9 L694.7,208.8 L694.0,207.3 L693.5,207.6 L693.5,207.0 L687.9,206.8 L684.6,207.8 L679.3,207.8Z" fill="#ebe9ec" stroke="#ebe9ec" stroke-width="0.5"/>
<path d="M653.4,207.8 L654.2,207.0 L654.9,205.1 L656.0,202.5 L656.6,201.1 L656.8,199.7 L663.1,199.7 L663.1,198.9 L682.1,199.2 L690.8,199.3 L690.7,200.6 L688.9,201.9 L686.8,202.2 L684.6,203.6 L682.9,204.8 L680.7,205.7 L679.4,206.8 L679.3,207.8 L653.4,207.8Z" fill="#ebe9ec" stroke="#ebe9ec" stroke-width="0.5"/>
<path d="M656.8,199.7 L658.1,199.2 L658.4,197.1 L660.7,196.5 L661.4,194.8 L662.9,194.3 L663.2,192.6 L665.1,191.8 L667.2,192.6 L669.8,191.5 L670.7,190.7 L673.1,190.0 L674.6,187.4 L677.1,185.4 L678.5,185.4 L679.8,187.0 L682.0,187.9 L685.0,187.4 L686.8,189.2 L688.1,193.2 L689.5,194.1 L686.3,196.7 L682.1,199.2 L663.1,198.9 L663.1,199.7 L656.8,199.7Z" fill="#ebe9ec" stroke="#ebe9ec" stroke-width="0.5"/>
<path d="M682.1,199.2 L686.3,196.7 L689.5,194.1 L690.8,195.9 L692.8,195.7 L694.3,194.7 L696.8,194.3 L698.1,191.6 L699.6,188.3 L701.4,188.8 L703.0,187.2 L705.2,183.7 L707.5,185.2 L708.0,184.1 L708.9,185.4 L710.6,186.5 L710.9,187.6 L709.8,189.0 L711.1,189.8 L713.2,191.2 L714.3,192.1 L714.1,194.3 L714.1,197.0 L715.5,197.6 L716.0,199.5 L690.8,199.3 L682.1,199.2Z" fill="#ebe9ec" stroke="#ebe9ec" stroke-width="0.5"/>
<path d="M715.6,196.2 L716.9,191.8 L718.7,191.3 L717.2,194.3 L715.9,196.5Z" fill="#ebe9ec" stroke="#ebe9ec" stroke-width="0.5"/>
<path d="M686.8,189.2 L688.5,188.2 L688.5,186.8 L690.5,186.2 L691.3,184.4 L692.8,183.7 L694.4,182.0 L694.9,179.9 L695.5,178.5 L695.1,176.9 L695.8,176.6 L695.8,181.9 L700.3,181.9 L700.3,184.8 L702.2,183.2 L703.3,182.5 L704.8,182.3 L705.9,182.0 L707.2,182.5 L708.0,184.1 L707.5,185.2 L705.2,183.7 L703.0,187.2 L701.4,188.8 L699.6,188.3 L698.1,191.6 L696.8,194.3 L694.3,194.7 L692.8,195.7 L690.8,195.9 L689.5,194.1 L688.1,193.2 L686.8,189.2Z" fill="#ebe9ec" stroke="#ebe9ec" stroke-width="0.5"/>
<path d="M700.3,181.9 L716.3,181.9 L716.3,189.0 L719.5,189.0 L718.7,191.3 L716.9,191.8 L715.9,189.8 L714.5,187.6 L714.5,184.2 L715.4,182.8 L713.7,184.5 L713.2,187.0 L713.7,189.8 L714.3,192.1 L713.2,191.2 L711.1,189.8 L709.8,189.0 L710.9,187.6 L710.6,186.5 L708.9,185.4 L708.0,184.1 L707.2,182.5 L705.9,182.0 L704.8,182.3 L703.3,182.5 L702.2,183.2 L700.3,184.8 L700.3,181.9Z" fill="#ebe9ec" stroke="#ebe9ec" stroke-width="0.5"/>
<path d="M716.3,189.0 L716.3,181.9 L717.2,181.2 L718.0,181.4 L717.4,182.4 L717.4,183.4 L718.0,184.8 L718.5,186.2 L719.4,187.0 L719.5,189.0Z" fill="#ebe9ec" stroke="#ebe9ec" stroke-width="0.5"/>
<path d="M718.0,181.4 L719.3,180.5 L720.8,179.1 L719.5,177.7 L718.9,176.2 L719.2,174.7 L721.1,172.4 L724.5,174.5 L724.0,176.2 L723.0,177.4 L724.1,177.6 L723.9,179.7 L723.7,181.7 L722.3,183.9 L720.2,186.3 L720.0,185.1 L718.5,184.2 L717.6,183.1 L717.4,182.4 L718.0,181.4Z" fill="#ebe9ec" stroke="#ebe9ec" stroke-width="0.5"/>
<path d="M695.8,168.8 L695.8,181.9 L716.3,181.9 L717.2,181.2 L718.0,181.4 L719.3,180.5 L720.8,179.1 L719.5,177.7 L718.9,176.2 L719.2,174.7 L721.1,172.4 L719.5,171.0 L719.5,169.6 L718.2,168.7 L699.1,168.7 L699.1,167.1 L695.8,168.8Z" fill="#ebe9ec" stroke="#ebe9ec" stroke-width="0.5"/>
<path d="M721.1,150.6 L718.5,151.8 L716.3,154.0 L713.9,155.9 L714.5,157.3 L714.5,159.5 L713.2,159.9 L711.1,161.0 L708.5,161.1 L704.6,160.5 L702.1,161.1 L702.2,162.3 L702.8,163.3 L702.0,164.5 L700.7,165.7 L699.1,167.1 L699.1,168.7 L718.2,168.7 L719.5,169.6 L719.5,171.0 L721.1,172.4 L724.5,174.5 L724.0,176.2 L725.2,175.4 L725.6,174.5 L726.0,172.8 L726.3,168.4 L727.3,164.2 L727.4,159.8 L726.9,159.1 L726.7,156.7 L726.9,153.7 L727.0,150.5 L721.1,150.6Z" fill="#ebe9ec" stroke="#ebe9ec" stroke-width="0.5"/>
<path d="M723.9,176.9 L725.2,175.4 L728.0,174.8 L731.5,173.6 L733.4,174.1 L730.6,175.4 L727.1,176.7Z" fill="#ebe9ec" stroke="#ebe9ec" stroke-width="0.5"/>
<path d="M725.6,174.5 L726.0,172.8 L726.3,168.4 L733.6,168.5 L733.4,172.7 L728.9,172.9 L727.6,173.6 L725.6,174.5Z" fill="#ebe9ec" stroke="#ebe9ec" stroke-width="0.5"/>
<path d="M733.6,168.5 L735.5,168.6 L735.7,169.3 L736.2,170.6 L736.6,171.6 L735.4,171.9 L733.4,172.7 L733.6,168.5Z" fill="#ebe9ec" stroke="#ebe9ec" stroke-width="0.5"/>
<path d="M726.3,168.4 L727.3,164.2 L730.8,164.4 L735.8,164.5 L736.2,164.2 L737.9,163.5 L738.9,164.8 L737.8,165.4 L737.1,166.6 L738.2,167.2 L738.6,168.9 L739.3,170.0 L741.2,169.9 L741.2,168.4 L740.6,168.3 L741.7,169.0 L741.7,170.6 L738.6,171.5 L736.6,171.6 L736.2,170.6 L735.7,169.3 L735.5,168.6 L733.6,168.5 L726.3,168.4Z" fill="#ebe9ec" stroke="#ebe9ec" stroke-width="0.5"/>
<path d="M727.3,164.2 L730.8,164.4 L731.0,161.0 L731.9,157.9 L732.6,155.5 L734.5,153.7 L734.9,150.5 L727.0,150.5 L726.9,153.7 L726.7,156.7 L726.9,159.1 L727.4,159.8 L727.3,164.2Z" fill="#ebe9ec" stroke="#ebe9ec" stroke-width="0.5"/>
<path d="M730.8,164.4 L735.8,164.5 L736.2,164.2 L737.9,163.5 L738.4,162.3 L737.2,160.4 L737.2,157.9 L737.0,153.1 L736.8,148.7 L735.4,149.1 L734.9,150.5 L734.5,153.7 L732.6,155.5 L731.9,157.9 L731.0,161.0 L730.8,164.4Z" fill="#ebe9ec" stroke="#ebe9ec" stroke-width="0.5"/>
<path d="M738.4,162.3 L737.2,160.4 L737.2,157.9 L737.0,153.1 L736.8,148.7 L737.8,149.1 L739.7,145.9 L740.4,143.7 L741.5,139.9 L744.8,135.1 L745.6,136.1 L747.5,136.2 L748.7,135.7 L750.4,136.9 L751.0,137.6 L751.0,145.0 L751.0,146.2 L752.5,146.9 L752.7,149.7 L754.0,150.0 L754.7,151.8 L752.3,153.4 L749.3,154.9 L746.7,154.9 L745.4,156.7 L742.3,158.2 L740.4,158.8 L739.1,161.0 L738.4,162.3Z" fill="#ebe9ec" stroke="#ebe9ec" stroke-width="0.5"/>
<path d="M677.1,185.4 L677.1,170.4 L683.1,170.3 L685.0,171.6 L686.3,171.9 L689.4,171.6 L690.7,171.6 L692.8,170.1 L695.8,168.8 L695.8,176.6 L695.1,176.9 L695.5,178.5 L694.9,179.9 L694.4,182.0 L692.8,183.7 L691.3,184.4 L690.5,186.2 L688.5,186.8 L688.5,188.2 L686.8,189.2 L685.0,187.4 L682.0,187.9 L679.8,187.0 L678.5,185.4 L677.1,185.4Z" fill="#ebe9ec" stroke="#ebe9ec" stroke-width="0.5"/>
<path d="M665.4,170.4 L665.4,184.0 L664.9,186.5 L665.5,188.7 L663.6,190.4 L663.2,192.6 L665.1,191.8 L667.2,192.6 L669.8,191.5 L670.7,190.7 L673.1,190.0 L674.6,187.4 L677.1,185.4 L677.1,170.1 L668.5,170.1 L666.8,170.8 L665.4,170.4Z" fill="#ebe9ec" stroke="#ebe9ec" stroke-width="0.5"/>
<path d="M665.4,170.4 L665.1,169.6 L664.2,165.8 L651.9,165.7 L653.8,168.7 L654.0,169.9 L653.1,171.3 L652.1,171.6 L650.1,172.8 L649.9,175.7 L648.6,178.1 L648.1,180.3 L648.6,182.0 L651.6,185.4 L653.9,186.5 L653.9,188.0 L653.1,190.4 L655.1,192.1 L656.7,195.4 L658.4,197.1 L660.7,196.5 L661.4,194.8 L662.9,194.3 L663.2,192.6 L663.6,190.4 L665.5,188.7 L664.9,186.5 L665.4,184.0 L665.4,170.4Z" fill="#ebe9ec" stroke="#ebe9ec" stroke-width="0.5"/>
<path d="M683.1,170.3 L684.4,168.1 L684.8,166.8 L686.1,165.7 L687.2,165.1 L687.6,162.8 L687.0,159.1 L686.8,157.0 L685.0,156.4 L683.3,157.0 L681.1,158.8 L681.1,157.3 L683.1,155.2 L683.7,151.8 L683.2,150.3 L681.1,147.8 L679.2,146.6 L677.5,145.7 L676.4,146.2 L676.4,148.1 L674.6,149.1 L673.8,151.5 L674.0,149.4 L671.7,151.2 L670.9,152.4 L669.8,156.4 L670.1,157.0 L669.8,159.1 L670.7,161.4 L671.1,163.9 L670.8,166.3 L669.8,168.1 L668.5,170.1 L677.1,170.1 L677.1,170.4 L683.1,170.3Z" fill="#ebe9ec" stroke="#ebe9ec" stroke-width="0.5"/>
<path d="M652.8,140.8 L654.1,142.2 L658.6,143.5 L659.6,144.2 L662.9,144.9 L664.2,148.4 L665.1,150.0 L667.5,145.9 L669.8,146.9 L672.5,144.7 L676.4,144.1 L677.6,145.2 L679.8,144.4 L682.4,143.7 L680.3,142.5 L679.2,141.2 L676.6,139.5 L674.2,140.1 L669.8,141.2 L669.2,141.7 L665.9,140.9 L663.8,138.7 L662.5,136.7 L664.2,135.1 L660.7,136.4 L657.7,138.8 L652.8,140.8Z" fill="#ebe9ec" stroke="#ebe9ec" stroke-width="0.5"/>
<path d="M645.5,139.6 L646.0,139.9 L649.0,139.0 L651.0,138.3 L651.2,140.3 L652.8,140.8 L654.1,142.2 L658.6,143.5 L659.6,144.2 L662.9,144.9 L664.2,148.4 L665.1,150.0 L664.4,150.9 L663.6,153.4 L665.9,151.2 L667.9,148.7 L665.5,154.3 L664.6,158.2 L663.8,162.5 L664.2,165.8 L651.9,165.7 L649.7,164.5 L649.9,162.8 L649.4,159.8 L649.2,157.6 L646.4,154.9 L644.7,153.4 L642.5,152.1 L642.7,150.6 L643.2,148.1 L642.1,146.2 L644.7,143.9 L644.7,140.2 L645.5,139.6Z" fill="#ebe9ec" stroke="#ebe9ec" stroke-width="0.5"/>
</g>
<path d="M572.0,197.0 L598.2,197.0 L598.1,199.7 L598.0,223.5 L582.5,223.5 L582.9,224.7 L575.6,224.7 L575.6,227.0 L572.0,227.0Z" fill="none" stroke="#d3ccd3" stroke-width="0.5"/>
<path d="M598.2,197.0 L634.6,197.0 L634.6,199.7 L635.4,205.7 L635.2,215.0 L632.1,213.4 L629.5,213.9 L626.0,213.9 L623.4,214.4 L619.5,212.4 L617.3,212.3 L614.7,211.3 L611.3,210.2 L611.3,199.7 L598.1,199.7 L598.2,197.0Z" fill="none" stroke="#d3ccd3" stroke-width="0.5"/>
<path d="M593.7,144.7 L626.2,144.7 L624.9,146.9 L626.7,148.7 L626.7,159.8 L626.0,159.8 L626.7,162.2 L626.2,163.9 L626.7,165.7 L625.6,165.1 L623.4,163.6 L620.4,163.9 L617.8,162.8 L593.7,162.8Z" fill="none" stroke="#d3ccd3" stroke-width="0.5"/>
<path d="M593.7,125.0 L623.3,125.0 L623.8,128.3 L623.6,131.5 L624.9,134.8 L625.1,138.7 L626.0,142.5 L626.2,144.7 L593.7,144.7Z" fill="none" stroke="#d3ccd3" stroke-width="0.5"/>
<path d="M626.0,159.8 L649.4,159.8 L649.9,162.8 L649.7,164.5 L651.9,165.7 L653.8,168.7 L654.0,169.9 L653.1,171.3 L652.1,171.6 L650.1,172.8 L649.9,175.7 L648.6,178.1 L647.1,176.8 L629.6,176.9 L629.3,176.0 L629.1,172.8 L628.2,170.4 L627.3,167.5 L626.7,165.7 L626.2,163.9 L626.7,162.2 L626.0,159.8Z" fill="none" stroke="#d3ccd3" stroke-width="0.5"/>
<path d="M653.4,207.8 L654.2,207.0 L654.9,205.1 L656.0,202.5 L656.6,201.1 L656.8,199.7 L663.1,199.7 L663.1,198.9 L682.1,199.2 L690.8,199.3 L690.7,200.6 L688.9,201.9 L686.8,202.2 L684.6,203.6 L682.9,204.8 L680.7,205.7 L679.4,206.8 L679.3,207.8 L653.4,207.8Z" fill="none" stroke="#d3ccd3" stroke-width="0.5"/>
<path d="M686.8,189.2 L688.5,188.2 L688.5,186.8 L690.5,186.2 L691.3,184.4 L692.8,183.7 L694.4,182.0 L694.9,179.9 L695.5,178.5 L695.1,176.9 L695.8,176.6 L695.8,181.9 L700.3,181.9 L700.3,184.8 L702.2,183.2 L703.3,182.5 L704.8,182.3 L705.9,182.0 L707.2,182.5 L708.0,184.1 L707.5,185.2 L705.2,183.7 L703.0,187.2 L701.4,188.8 L699.6,188.3 L698.1,191.6 L696.8,194.3 L694.3,194.7 L692.8,195.7 L690.8,195.9 L689.5,194.1 L688.1,193.2 L686.8,189.2Z" fill="none" stroke="#d3ccd3" stroke-width="0.5"/>
<path d="M727.3,164.2 L730.8,164.4 L731.0,161.0 L731.9,157.9 L732.6,155.5 L734.5,153.7 L734.9,150.5 L727.0,150.5 L726.9,153.7 L726.7,156.7 L726.9,159.1 L727.4,159.8 L727.3,164.2Z" fill="none" stroke="#d3ccd3" stroke-width="0.5"/>
<path d="M738.4,162.3 L737.2,160.4 L737.2,157.9 L737.0,153.1 L736.8,148.7 L737.8,149.1 L739.7,145.9 L740.4,143.7 L741.5,139.9 L744.8,135.1 L745.6,136.1 L747.5,136.2 L748.7,135.7 L750.4,136.9 L751.0,137.6 L751.0,145.0 L751.0,146.2 L752.5,146.9 L752.7,149.7 L754.0,150.0 L754.7,151.8 L752.3,153.4 L749.3,154.9 L746.7,154.9 L745.4,156.7 L742.3,158.2 L740.4,158.8 L739.1,161.0 L738.4,162.3Z" fill="none" stroke="#d3ccd3" stroke-width="0.5"/>
<path d="M683.1,170.3 L684.4,168.1 L684.8,166.8 L686.1,165.7 L687.2,165.1 L687.6,162.8 L687.0,159.1 L686.8,157.0 L685.0,156.4 L683.3,157.0 L681.1,158.8 L681.1,157.3 L683.1,155.2 L683.7,151.8 L683.2,150.3 L681.1,147.8 L679.2,146.6 L677.5,145.7 L676.4,146.2 L676.4,148.1 L674.6,149.1 L673.8,151.5 L674.0,149.4 L671.7,151.2 L670.9,152.4 L669.8,156.4 L670.1,157.0 L669.8,159.1 L670.7,161.4 L671.1,163.9 L670.8,166.3 L669.8,168.1 L668.5,170.1 L677.1,170.1 L677.1,170.4 L683.1,170.3Z" fill="none" stroke="#d3ccd3" stroke-width="0.5"/>
<path d="M652.8,140.8 L654.1,142.2 L658.6,143.5 L659.6,144.2 L662.9,144.9 L664.2,148.4 L665.1,150.0 L667.5,145.9 L669.8,146.9 L672.5,144.7 L676.4,144.1 L677.6,145.2 L679.8,144.4 L682.4,143.7 L680.3,142.5 L679.2,141.2 L676.6,139.5 L674.2,140.1 L669.8,141.2 L669.2,141.7 L665.9,140.9 L663.8,138.7 L662.5,136.7 L664.2,135.1 L660.7,136.4 L657.7,138.8 L652.8,140.8Z" fill="none" stroke="#d3ccd3" stroke-width="0.5"/>
<path d="M645.5,139.6 L646.0,139.9 L649.0,139.0 L651.0,138.3 L651.2,140.3 L652.8,140.8 L654.1,142.2 L658.6,143.5 L659.6,144.2 L662.9,144.9 L664.2,148.4 L665.1,150.0 L664.4,150.9 L663.6,153.4 L665.9,151.2 L667.9,148.7 L665.5,154.3 L664.6,158.2 L663.8,162.5 L664.2,165.8 L651.9,165.7 L649.7,164.5 L649.9,162.8 L649.4,159.8 L649.2,157.6 L646.4,154.9 L644.7,153.4 L642.5,152.1 L642.7,150.6 L643.2,148.1 L642.1,146.2 L644.7,143.9 L644.7,140.2 L645.5,139.6Z" fill="none" stroke="#d3ccd3" stroke-width="0.5"/>
<path d="M511.0,125.0 L632.3,125.0 L634.3,125.9 L635.1,126.9 L639.9,127.6 L640.8,127.4 L643.8,128.6 L646.0,129.6 L648.1,131.1 L651.2,130.2 L654.7,130.9 L656.6,131.5" fill="none" stroke="#cfc6cd" stroke-width="0.6"/>
<path d="M721.1,150.6 L727.0,150.5 L734.9,150.5 L735.4,149.1 L736.8,148.7 L737.8,149.1 L739.7,145.9 L740.4,143.7 L741.5,139.9 L744.8,135.1 L745.6,136.1 L747.5,136.2 L748.7,135.7 L750.4,136.9 L751.0,137.6 L751.0,145.0 L751.0,146.2 L752.5,146.9 L752.7,149.7 L754.0,150.0 L754.7,151.8" fill="none" stroke="#a9a6aa" stroke-width="0.55"/>
<path d="M537.0,220.8 L547.4,219.8 L547.0,221.0 L563.2,227.0 L575.6,227.0 L575.6,224.7 L582.9,224.7 L584.3,226.3 L587.8,229.2 L590.0,230.7 L591.5,235.3 L593.9,237.3 L597.6,238.9 L599.5,235.3 L601.3,234.3 L605.2,234.9 L607.4,237.0 L609.1,240.3 L610.0,242.3 L613.4,246.2 L613.6,248.7 L615.2,251.6 L619.1,253.3 L621.7,254.0 L623.6,253.7" fill="none" stroke="#cfc6cd" stroke-width="0.6"/>
<path d="M506.9,142.7 L506.8,140.3 L506.7,138.7 L505.8,135.8 L504.1,131.5 L503.9,129.1 L507.1,130.4 L509.6,130.8 L512.1,130.9 L512.7,133.2 L512.1,136.1 L514.0,136.1 L514.3,133.2 L514.5,130.9 L513.4,128.3 L513.6,126.6 L512.5,125.0 L537.3,125.0 L537.3,141.7 L537.8,144.4 L528.9,144.4 L527.5,144.8 L526.0,145.0 L523.6,146.1 L521.6,146.1 L519.2,146.7 L516.2,146.4 L514.5,147.1 L512.7,146.7 L512.3,145.2 L511.7,143.6 L509.7,143.1 L507.5,142.8 L506.9,142.7Z" fill="#2fb8a1" stroke="#7fa39f" stroke-width="0.6" stroke-linejoin="round"/>
<path d="M506.2,168.7 L505.4,165.7 L504.7,163.7 L505.8,160.4 L506.4,156.7 L506.8,153.1 L507.1,150.6 L507.3,147.5 L507.3,144.4 L506.9,142.7 L507.5,142.8 L509.7,143.1 L511.7,143.6 L512.3,145.2 L512.7,146.7 L514.5,147.1 L516.2,146.4 L519.2,146.7 L521.6,146.1 L523.6,146.1 L526.0,145.0 L527.5,144.8 L528.9,144.4 L537.8,144.4 L538.6,145.5 L539.7,146.9 L538.9,149.1 L538.1,150.6 L537.3,152.1 L536.5,154.6 L537.7,156.1 L537.3,157.8 L537.3,168.7 L506.2,168.7Z" fill="#c0e7e2" stroke="#7fa39f" stroke-width="0.6" stroke-linejoin="round"/>
<path d="M537.3,125.0 L541.6,125.0 L541.6,131.5 L542.9,133.5 L543.1,135.1 L544.9,136.4 L546.6,138.7 L547.9,140.3 L549.0,140.3 L548.7,143.1 L549.0,145.0 L548.1,147.1 L549.2,147.5 L550.7,146.3 L551.4,147.5 L552.4,149.4 L552.9,150.9 L553.8,151.8 L554.6,153.7 L555.5,154.5 L557.4,153.9 L559.2,153.6 L561.3,153.4 L563.3,153.9 L563.3,168.7 L537.3,168.7 L537.3,157.8 L537.7,156.1 L536.5,154.6 L537.3,152.1 L538.1,150.6 L538.9,149.1 L539.7,146.9 L538.6,145.5 L537.8,144.4 L537.3,141.7 L537.3,125.0Z" fill="#c0e7e2" stroke="#7fa39f" stroke-width="0.6" stroke-linejoin="round"/>
<path d="M541.6,125.0 L593.7,125.0 L593.7,150.6 L563.3,150.6 L563.3,153.9 L561.3,153.4 L559.2,153.6 L557.4,153.9 L555.5,154.5 L554.6,153.7 L553.8,151.8 L552.9,150.9 L552.4,149.4 L551.4,147.5 L550.7,146.3 L549.2,147.5 L548.1,147.1 L549.0,145.0 L548.7,143.1 L549.0,140.3 L547.9,140.3 L546.6,138.7 L544.9,136.4 L543.1,135.1 L542.9,133.5 L541.6,131.5 L541.6,125.0Z" fill="#c0e7e2" stroke="#7fa39f" stroke-width="0.6" stroke-linejoin="round"/>
<path d="M563.3,150.6 L593.7,150.6 L593.7,174.5 L563.3,174.5Z" fill="#c0e7e2" stroke="#7fa39f" stroke-width="0.6" stroke-linejoin="round"/>
<path d="M572.0,174.5 L602.4,174.5 L602.4,197.0 L572.0,197.0Z" fill="#c0e7e2" stroke="#7fa39f" stroke-width="0.6" stroke-linejoin="round"/>
<path d="M550.3,168.7 L563.3,168.7 L563.3,174.5 L572.0,174.5 L572.0,197.0 L550.3,197.0Z" fill="#c0e7e2" stroke="#7fa39f" stroke-width="0.6" stroke-linejoin="round"/>
<path d="M524.5,168.7 L550.3,168.7 L550.3,197.0 L550.3,201.4 L548.8,201.6 L547.3,202.3 L547.5,204.6 L547.9,207.0 L547.8,207.8 L524.5,185.9 L524.5,168.7Z" fill="#c0e7e2" stroke="#7fa39f" stroke-width="0.6" stroke-linejoin="round"/>
<path d="M537.0,220.8 L536.4,219.1 L536.2,217.8 L533.6,215.2 L531.4,214.4 L531.0,213.0 L527.9,212.3 L525.8,211.0 L522.4,210.7 L521.6,210.0 L521.9,207.3 L520.6,205.7 L518.8,204.1 L516.2,200.8 L516.0,199.2 L516.6,197.8 L515.6,197.3 L514.0,195.9 L513.6,194.3 L513.5,192.6 L511.4,191.5 L511.0,189.3 L508.4,186.2 L508.0,183.1 L507.1,180.3 L505.4,177.7 L506.4,175.4 L506.7,171.6 L506.2,170.1 L506.2,168.7 L524.5,168.7 L524.5,185.9 L547.8,207.8 L548.0,208.9 L548.8,211.5 L549.9,211.5 L548.6,212.7 L548.2,215.2 L547.5,216.3 L548.3,218.4 L548.5,219.1 L547.8,219.8 L547.4,219.8 L537.0,220.8Z" fill="#c0e7e2" stroke="#7fa39f" stroke-width="0.6" stroke-linejoin="round"/>
<path d="M550.3,197.0 L572.0,197.0 L572.0,227.0 L563.2,227.0 L547.0,221.0 L547.4,219.8 L547.8,219.8 L548.5,219.1 L548.3,218.4 L547.5,216.3 L548.2,215.2 L548.6,212.7 L549.9,211.5 L548.8,211.5 L548.0,208.9 L547.8,207.8 L547.9,207.0 L547.5,204.6 L547.3,202.3 L548.8,201.6 L550.3,201.4 L550.3,197.0Z" fill="#c0e7e2" stroke="#7fa39f" stroke-width="0.6" stroke-linejoin="round"/>
<path d="M598.1,199.7 L611.3,199.7 L611.3,210.2 L614.7,211.3 L617.3,212.3 L619.5,212.4 L623.4,214.4 L626.0,213.9 L629.5,213.9 L632.1,213.4 L635.2,215.0 L637.1,215.5 L637.1,223.6 L637.9,225.6 L639.2,227.8 L638.6,230.7 L638.4,232.2 L637.9,235.0 L638.0,235.3 L634.3,237.0 L632.5,238.3 L629.1,240.8 L626.9,242.0 L624.3,244.5 L623.4,245.7 L622.5,247.7 L622.8,250.6 L623.6,253.7 L621.7,254.0 L619.1,253.3 L615.2,251.6 L613.6,248.7 L613.4,246.2 L610.0,242.3 L609.1,240.3 L607.4,237.0 L605.2,234.9 L601.3,234.3 L599.5,235.3 L597.6,238.9 L593.9,237.3 L591.5,235.3 L590.0,230.7 L587.8,229.2 L584.3,226.3 L582.9,224.7 L582.5,223.5 L598.0,223.5 L598.1,199.7Z" fill="#c0e7e2" stroke="#7fa39f" stroke-width="0.6" stroke-linejoin="round"/>
<path d="M602.4,180.3 L631.6,180.3 L632.5,181.1 L633.4,183.7 L634.6,185.4 L634.6,197.0 L602.4,197.0Z" fill="#c0e7e2" stroke="#7fa39f" stroke-width="0.6" stroke-linejoin="round"/>
<path d="M593.7,162.8 L617.8,162.8 L620.4,163.9 L623.4,163.6 L625.6,165.1 L626.7,165.7 L627.3,167.5 L628.2,170.4 L629.1,172.8 L629.3,176.0 L629.6,176.9 L630.1,178.5 L631.6,180.3 L602.4,180.3 L602.4,174.5 L593.7,174.5Z" fill="#c0e7e2" stroke="#7fa39f" stroke-width="0.6" stroke-linejoin="round"/>
<path d="M623.3,125.0 L632.3,125.0 L632.3,122.4 L633.6,122.8 L632.3,125.0 L634.3,125.9 L635.1,126.9 L639.9,127.6 L640.8,127.4 L643.8,128.6 L646.0,129.6 L648.1,131.1 L651.2,130.2 L654.7,130.9 L656.6,131.5 L652.5,133.5 L648.1,137.4 L645.5,139.6 L644.7,140.2 L644.7,143.9 L642.1,146.2 L643.2,148.1 L642.7,150.6 L642.5,152.1 L644.7,153.4 L646.4,154.9 L649.2,157.6 L649.4,159.8 L626.7,159.8 L626.7,148.7 L624.9,146.9 L626.2,144.7 L626.0,142.5 L625.1,138.7 L624.9,134.8 L623.6,131.5 L623.8,128.3 L623.3,125.0Z" fill="#c0e7e2" stroke="#7fa39f" stroke-width="0.6" stroke-linejoin="round"/>
<path d="M629.6,176.9 L647.1,176.8 L648.6,178.1 L648.1,180.3 L648.6,182.0 L651.6,185.4 L653.9,186.5 L653.9,188.0 L653.1,190.4 L655.1,192.1 L656.7,195.4 L658.4,197.1 L658.1,199.2 L656.8,199.7 L656.6,201.1 L656.0,202.5 L653.1,202.5 L654.0,199.7 L634.6,199.7 L634.6,197.0 L634.6,185.4 L633.4,183.7 L632.5,181.1 L631.6,180.3 L630.1,178.5 L629.6,176.9Z" fill="#c0e7e2" stroke="#7fa39f" stroke-width="0.6" stroke-linejoin="round"/>
<path d="M634.6,199.7 L654.0,199.7 L653.1,202.5 L656.0,202.5 L654.9,205.1 L654.2,207.0 L653.4,207.8 L652.1,210.5 L650.1,213.7 L649.6,218.4 L637.1,218.4 L637.1,215.5 L635.2,215.0 L635.4,205.7 L634.6,199.7Z" fill="#c0e7e2" stroke="#7fa39f" stroke-width="0.6" stroke-linejoin="round"/>
<path d="M637.1,218.4 L649.6,218.4 L649.9,221.0 L650.8,222.0 L648.6,225.9 L647.5,228.7 L655.8,228.7 L655.3,230.5 L656.7,232.8 L658.1,233.7 L657.3,235.8 L659.0,237.8 L657.9,238.8 L657.3,239.0 L654.7,238.3 L653.8,238.3 L651.2,238.5 L649.0,237.3 L646.8,236.3 L644.7,236.0 L641.6,235.0 L638.0,235.3 L637.9,235.0 L638.4,232.2 L638.6,230.7 L639.2,227.8 L637.9,225.6 L637.1,223.6 L637.1,218.4Z" fill="#c0e7e2" stroke="#7fa39f" stroke-width="0.6" stroke-linejoin="round"/>
<path d="M653.4,207.8 L662.5,207.8 L662.9,208.4 L661.8,216.8 L661.3,224.1 L661.6,232.6 L659.0,231.8 L657.3,232.2 L656.7,232.8 L655.3,230.5 L655.8,228.7 L647.5,228.7 L648.6,225.9 L650.8,222.0 L649.9,221.0 L649.6,218.4 L650.1,213.7 L652.1,210.5 L653.4,207.8Z" fill="#c0e7e2" stroke="#7fa39f" stroke-width="0.6" stroke-linejoin="round"/>
<path d="M662.5,207.8 L673.8,207.8 L675.6,219.0 L676.4,222.0 L676.1,225.6 L676.4,228.7 L665.1,228.7 L665.9,230.5 L665.4,232.3 L663.8,232.5 L663.8,231.7 L663.3,230.2 L662.9,232.0 L661.6,232.6 L661.3,224.1 L661.8,216.8 L662.9,208.4 L662.5,207.8Z" fill="#c0e7e2" stroke="#7fa39f" stroke-width="0.6" stroke-linejoin="round"/>
<path d="M673.8,207.8 L684.6,207.8 L683.5,209.4 L685.5,210.7 L686.1,212.1 L688.5,215.2 L689.6,215.9 L691.5,218.4 L692.0,220.4 L693.1,223.0 L694.4,223.4 L693.3,225.1 L692.4,227.1 L692.0,229.2 L691.8,230.1 L689.8,229.7 L689.2,231.9 L688.5,230.9 L677.0,230.2 L676.4,228.7 L676.1,225.6 L676.4,222.0 L675.6,219.0 L673.8,207.8Z" fill="#c0e7e2" stroke="#7fa39f" stroke-width="0.6" stroke-linejoin="round"/>
<path d="M665.1,228.7 L676.4,228.7 L677.0,230.2 L688.5,230.9 L689.2,231.9 L689.8,229.7 L691.8,230.1 L692.0,231.7 L692.6,234.8 L693.7,237.8 L695.7,241.5 L695.5,243.2 L696.8,247.7 L697.9,249.6 L697.6,253.5 L697.4,254.8 L696.5,256.9 L694.2,257.7 L693.3,257.8 L692.2,254.5 L690.2,252.8 L689.4,251.1 L688.3,249.9 L687.0,247.2 L686.3,245.7 L685.7,244.2 L686.1,241.8 L686.6,239.3 L685.9,238.3 L684.8,238.1 L683.3,236.0 L682.0,234.0 L680.7,233.2 L679.2,234.0 L676.4,235.4 L674.8,235.4 L674.6,234.0 L673.3,233.0 L671.1,232.0 L669.8,231.8 L666.8,232.1 L665.4,232.3 L665.9,230.5 L665.1,228.7Z" fill="#c0e7e2" stroke="#7fa39f" stroke-width="0.6" stroke-linejoin="round"/>
<path d="M684.6,207.8 L687.9,206.8 L693.5,207.0 L693.5,207.6 L694.0,207.3 L694.7,208.8 L699.5,208.9 L704.3,213.9 L702.8,214.7 L701.5,217.3 L699.8,218.9 L698.5,219.7 L696.1,221.5 L695.0,222.5 L694.4,223.4 L693.1,223.0 L692.0,220.4 L691.5,218.4 L689.6,215.9 L688.5,215.2 L686.1,212.1 L685.5,210.7 L683.5,209.4 L684.6,207.8Z" fill="#c0e7e2" stroke="#7fa39f" stroke-width="0.6" stroke-linejoin="round"/>
<path d="M679.3,207.8 L679.4,206.8 L680.7,205.7 L682.9,204.8 L684.6,203.6 L686.8,202.2 L688.9,201.9 L690.7,200.6 L690.8,199.3 L716.0,199.5 L716.7,202.5 L717.5,206.6 L715.4,207.6 L713.1,210.0 L710.6,209.7 L708.0,212.1 L707.0,213.9 L704.3,213.9 L699.5,208.9 L694.7,208.8 L694.0,207.3 L693.5,207.6 L693.5,207.0 L687.9,206.8 L684.6,207.8 L679.3,207.8Z" fill="#c0e7e2" stroke="#7fa39f" stroke-width="0.6" stroke-linejoin="round"/>
<path d="M656.8,199.7 L658.1,199.2 L658.4,197.1 L660.7,196.5 L661.4,194.8 L662.9,194.3 L663.2,192.6 L665.1,191.8 L667.2,192.6 L669.8,191.5 L670.7,190.7 L673.1,190.0 L674.6,187.4 L677.1,185.4 L678.5,185.4 L679.8,187.0 L682.0,187.9 L685.0,187.4 L686.8,189.2 L688.1,193.2 L689.5,194.1 L686.3,196.7 L682.1,199.2 L663.1,198.9 L663.1,199.7 L656.8,199.7Z" fill="#c0e7e2" stroke="#7fa39f" stroke-width="0.6" stroke-linejoin="round"/>
<path d="M682.1,199.2 L686.3,196.7 L689.5,194.1 L690.8,195.9 L692.8,195.7 L694.3,194.7 L696.8,194.3 L698.1,191.6 L699.6,188.3 L701.4,188.8 L703.0,187.2 L705.2,183.7 L707.5,185.2 L708.0,184.1 L708.9,185.4 L710.6,186.5 L710.9,187.6 L709.8,189.0 L711.1,189.8 L713.2,191.2 L714.3,192.1 L714.1,194.3 L714.1,197.0 L715.5,197.6 L716.0,199.5 L690.8,199.3 L682.1,199.2Z" fill="#c0e7e2" stroke="#7fa39f" stroke-width="0.6" stroke-linejoin="round"/>
<path d="M715.6,196.2 L716.9,191.8 L718.7,191.3 L717.2,194.3 L715.9,196.5Z" fill="#c0e7e2" stroke="#7fa39f" stroke-width="0.6" stroke-linejoin="round"/>
<path d="M700.3,181.9 L716.3,181.9 L716.3,189.0 L719.5,189.0 L718.7,191.3 L716.9,191.8 L715.9,189.8 L714.5,187.6 L714.5,184.2 L715.4,182.8 L713.7,184.5 L713.2,187.0 L713.7,189.8 L714.3,192.1 L713.2,191.2 L711.1,189.8 L709.8,189.0 L710.9,187.6 L710.6,186.5 L708.9,185.4 L708.0,184.1 L707.2,182.5 L705.9,182.0 L704.8,182.3 L703.3,182.5 L702.2,183.2 L700.3,184.8 L700.3,181.9Z" fill="#c0e7e2" stroke="#7fa39f" stroke-width="0.6" stroke-linejoin="round"/>
<path d="M716.3,189.0 L716.3,181.9 L717.2,181.2 L718.0,181.4 L717.4,182.4 L717.4,183.4 L718.0,184.8 L718.5,186.2 L719.4,187.0 L719.5,189.0Z" fill="#c0e7e2" stroke="#7fa39f" stroke-width="0.6" stroke-linejoin="round"/>
<path d="M718.0,181.4 L719.3,180.5 L720.8,179.1 L719.5,177.7 L718.9,176.2 L719.2,174.7 L721.1,172.4 L724.5,174.5 L724.0,176.2 L723.0,177.4 L724.1,177.6 L723.9,179.7 L723.7,181.7 L722.3,183.9 L720.2,186.3 L720.0,185.1 L718.5,184.2 L717.6,183.1 L717.4,182.4 L718.0,181.4Z" fill="#c0e7e2" stroke="#7fa39f" stroke-width="0.6" stroke-linejoin="round"/>
<path d="M695.8,168.8 L695.8,181.9 L716.3,181.9 L717.2,181.2 L718.0,181.4 L719.3,180.5 L720.8,179.1 L719.5,177.7 L718.9,176.2 L719.2,174.7 L721.1,172.4 L719.5,171.0 L719.5,169.6 L718.2,168.7 L699.1,168.7 L699.1,167.1 L695.8,168.8Z" fill="#c0e7e2" stroke="#7fa39f" stroke-width="0.6" stroke-linejoin="round"/>
<path d="M721.1,150.6 L718.5,151.8 L716.3,154.0 L713.9,155.9 L714.5,157.3 L714.5,159.5 L713.2,159.9 L711.1,161.0 L708.5,161.1 L704.6,160.5 L702.1,161.1 L702.2,162.3 L702.8,163.3 L702.0,164.5 L700.7,165.7 L699.1,167.1 L699.1,168.7 L718.2,168.7 L719.5,169.6 L719.5,171.0 L721.1,172.4 L724.5,174.5 L724.0,176.2 L725.2,175.4 L725.6,174.5 L726.0,172.8 L726.3,168.4 L727.3,164.2 L727.4,159.8 L726.9,159.1 L726.7,156.7 L726.9,153.7 L727.0,150.5 L721.1,150.6Z" fill="#c0e7e2" stroke="#7fa39f" stroke-width="0.6" stroke-linejoin="round"/>
<path d="M723.9,176.9 L725.2,175.4 L728.0,174.8 L731.5,173.6 L733.4,174.1 L730.6,175.4 L727.1,176.7Z" fill="#c0e7e2" stroke="#7fa39f" stroke-width="0.6" stroke-linejoin="round"/>
<path d="M725.6,174.5 L726.0,172.8 L726.3,168.4 L733.6,168.5 L733.4,172.7 L728.9,172.9 L727.6,173.6 L725.6,174.5Z" fill="#c0e7e2" stroke="#7fa39f" stroke-width="0.6" stroke-linejoin="round"/>
<path d="M733.6,168.5 L735.5,168.6 L735.7,169.3 L736.2,170.6 L736.6,171.6 L735.4,171.9 L733.4,172.7 L733.6,168.5Z" fill="#c0e7e2" stroke="#7fa39f" stroke-width="0.6" stroke-linejoin="round"/>
<path d="M726.3,168.4 L727.3,164.2 L730.8,164.4 L735.8,164.5 L736.2,164.2 L737.9,163.5 L738.9,164.8 L737.8,165.4 L737.1,166.6 L738.2,167.2 L738.6,168.9 L739.3,170.0 L741.2,169.9 L741.2,168.4 L740.6,168.3 L741.7,169.0 L741.7,170.6 L738.6,171.5 L736.6,171.6 L736.2,170.6 L735.7,169.3 L735.5,168.6 L733.6,168.5 L726.3,168.4Z" fill="#c0e7e2" stroke="#7fa39f" stroke-width="0.6" stroke-linejoin="round"/>
<path d="M730.8,164.4 L735.8,164.5 L736.2,164.2 L737.9,163.5 L738.4,162.3 L737.2,160.4 L737.2,157.9 L737.0,153.1 L736.8,148.7 L735.4,149.1 L734.9,150.5 L734.5,153.7 L732.6,155.5 L731.9,157.9 L731.0,161.0 L730.8,164.4Z" fill="#c0e7e2" stroke="#7fa39f" stroke-width="0.6" stroke-linejoin="round"/>
<path d="M677.1,185.4 L677.1,170.4 L683.1,170.3 L685.0,171.6 L686.3,171.9 L689.4,171.6 L690.7,171.6 L692.8,170.1 L695.8,168.8 L695.8,176.6 L695.1,176.9 L695.5,178.5 L694.9,179.9 L694.4,182.0 L692.8,183.7 L691.3,184.4 L690.5,186.2 L688.5,186.8 L688.5,188.2 L686.8,189.2 L685.0,187.4 L682.0,187.9 L679.8,187.0 L678.5,185.4 L677.1,185.4Z" fill="#c0e7e2" stroke="#7fa39f" stroke-width="0.6" stroke-linejoin="round"/>
<path d="M665.4,170.4 L665.4,184.0 L664.9,186.5 L665.5,188.7 L663.6,190.4 L663.2,192.6 L665.1,191.8 L667.2,192.6 L669.8,191.5 L670.7,190.7 L673.1,190.0 L674.6,187.4 L677.1,185.4 L677.1,170.1 L668.5,170.1 L666.8,170.8 L665.4,170.4Z" fill="#c0e7e2" stroke="#7fa39f" stroke-width="0.6" stroke-linejoin="round"/>
<path d="M665.4,170.4 L665.1,169.6 L664.2,165.8 L651.9,165.7 L653.8,168.7 L654.0,169.9 L653.1,171.3 L652.1,171.6 L650.1,172.8 L649.9,175.7 L648.6,178.1 L648.1,180.3 L648.6,182.0 L651.6,185.4 L653.9,186.5 L653.9,188.0 L653.1,190.4 L655.1,192.1 L656.7,195.4 L658.4,197.1 L660.7,196.5 L661.4,194.8 L662.9,194.3 L663.2,192.6 L663.6,190.4 L665.5,188.7 L664.9,186.5 L665.4,184.0 L665.4,170.4Z" fill="#c0e7e2" stroke="#7fa39f" stroke-width="0.6" stroke-linejoin="round"/>
<text x="521.8" y="137.4" font-size="5.8" fill="#262b2b" stroke="#262b2b" stroke-width="0.12" text-anchor="middle">150,082</text>
<text x="522.2" y="159.2" font-size="5.8" fill="#262b2b" stroke="#262b2b" stroke-width="0.12" text-anchor="middle">8</text>
<text x="547.8" y="159.2" font-size="5.8" fill="#262b2b" stroke="#262b2b" stroke-width="0.12" text-anchor="middle">2</text>
<text x="568.8" y="140.2" font-size="5.8" fill="#262b2b" stroke="#262b2b" stroke-width="0.12" text-anchor="middle">1</text>
<text x="578.4" y="165.4" font-size="5.8" fill="#262b2b" stroke="#262b2b" stroke-width="0.12" text-anchor="middle">2</text>
<text x="612.4" y="174.2" font-size="5.8" fill="#262b2b" stroke="#262b2b" stroke-width="0.12" text-anchor="middle">3</text>
<text x="538.2" y="186.9" font-size="5.8" fill="#262b2b" stroke="#262b2b" stroke-width="0.12" text-anchor="middle">6</text>
<text x="560.5" y="186.9" font-size="5.8" fill="#262b2b" stroke="#262b2b" stroke-width="0.12" text-anchor="middle">2</text>
<text x="587.4" y="188.0" font-size="5.8" fill="#262b2b" stroke="#262b2b" stroke-width="0.12" text-anchor="middle">11</text>
<text x="617.8" y="191.2" font-size="5.8" fill="#262b2b" stroke="#262b2b" stroke-width="0.12" text-anchor="middle">2</text>
<text x="525.5" y="198.2" font-size="5.8" fill="#262b2b" stroke="#262b2b" stroke-width="0.12" text-anchor="middle">92</text>
<text x="560.9" y="212.0" font-size="5.8" fill="#262b2b" stroke="#262b2b" stroke-width="0.12" text-anchor="middle">11</text>
<text x="614.5" y="229.5" font-size="5.8" fill="#262b2b" stroke="#262b2b" stroke-width="0.12" text-anchor="middle">20</text>
<text x="635.8" y="145.1" font-size="5.8" fill="#262b2b" stroke="#262b2b" stroke-width="0.12" text-anchor="middle">1</text>
<text x="657.9" y="182.2" font-size="5.8" fill="#262b2b" stroke="#262b2b" stroke-width="0.12" text-anchor="middle">12</text>
<text x="670.8" y="182.2" font-size="5.8" fill="#262b2b" stroke="#262b2b" stroke-width="0.12" text-anchor="middle">2</text>
<text x="684.6" y="180.7" font-size="5.8" fill="#262b2b" stroke="#262b2b" stroke-width="0.12" text-anchor="middle">2</text>
<text x="706.8" y="177.6" font-size="5.8" fill="#262b2b" stroke="#262b2b" stroke-width="0.12" text-anchor="middle">2</text>
<text x="717.3" y="165.0" font-size="5.8" fill="#262b2b" stroke="#262b2b" stroke-width="0.12" text-anchor="middle">7</text>
<text x="734.9" y="161.6" font-size="5.8" fill="#262b2b" stroke="#262b2b" stroke-width="0.12" text-anchor="middle">1</text>
<text x="732.4" y="168.4" font-size="5.8" fill="#262b2b" stroke="#262b2b" stroke-width="0.12" text-anchor="middle">1</text>
<text x="722.1" y="181.7" font-size="5.8" fill="#262b2b" stroke="#262b2b" stroke-width="0.12" text-anchor="middle">9</text>
<text x="710.6" y="185.7" font-size="5.8" fill="#262b2b" stroke="#262b2b" stroke-width="0.12" text-anchor="middle">33</text>
<text x="717.7" y="189.9" font-size="5.8" fill="#262b2b" stroke="#262b2b" stroke-width="0.12" text-anchor="middle">3</text>
<text x="676.9" y="194.2" font-size="5.8" fill="#262b2b" stroke="#262b2b" stroke-width="0.12" text-anchor="middle">3</text>
<text x="644.0" y="192.2" font-size="5.8" fill="#262b2b" stroke="#262b2b" stroke-width="0.12" text-anchor="middle">4</text>
<text x="705.5" y="194.7" font-size="5.8" fill="#262b2b" stroke="#262b2b" stroke-width="0.12" text-anchor="middle">35</text>
<text x="644.0" y="211.2" font-size="5.8" fill="#262b2b" stroke="#262b2b" stroke-width="0.12" text-anchor="middle">2</text>
<text x="655.0" y="218.1" font-size="5.8" fill="#262b2b" stroke="#262b2b" stroke-width="0.12" text-anchor="middle">1</text>
<text x="668.8" y="222.2" font-size="5.8" fill="#262b2b" stroke="#262b2b" stroke-width="0.12" text-anchor="middle">3</text>
<text x="683.0" y="225.1" font-size="5.8" fill="#262b2b" stroke="#262b2b" stroke-width="0.12" text-anchor="middle">5</text>
<text x="694.0" y="215.7" font-size="5.8" fill="#262b2b" stroke="#262b2b" stroke-width="0.12" text-anchor="middle">6</text>
<text x="698.1" y="206.9" font-size="5.8" fill="#262b2b" stroke="#262b2b" stroke-width="0.12" text-anchor="middle">13</text>
<text x="644.7" y="232.1" font-size="5.8" fill="#262b2b" stroke="#262b2b" stroke-width="0.12" text-anchor="middle">3</text>
<text x="691.5" y="243.2" font-size="5.8" fill="#262b2b" stroke="#262b2b" stroke-width="0.12" text-anchor="middle">9</text>
<text x="604.5" y="267.8" font-size="6.2" fill="#9a9a9a" text-anchor="middle">Mexico</text>
<text x="456" y="264.2" font-size="6.2" fill="#5c5c5c" textLength="84.5" lengthAdjust="spacingAndGlyphs">© 2024 Mapbox © OpenStreetMap</text>
</g></svg>
</body></html>
